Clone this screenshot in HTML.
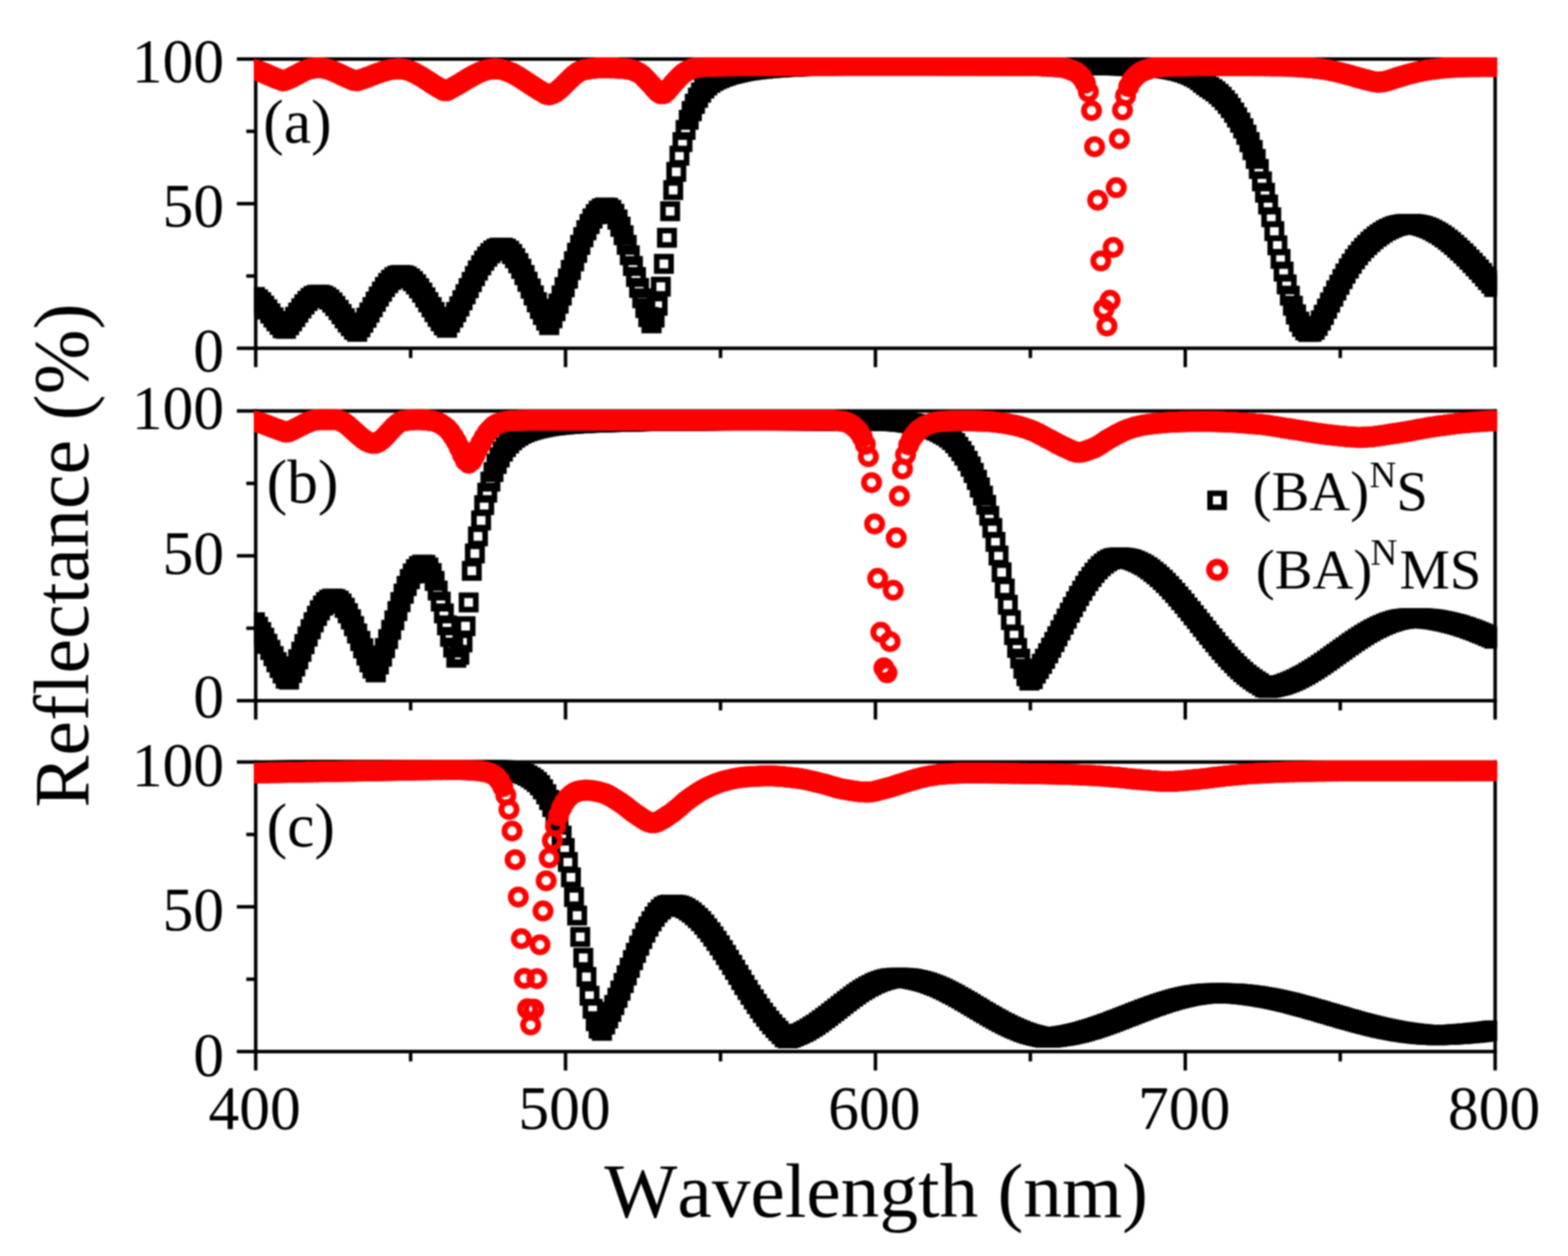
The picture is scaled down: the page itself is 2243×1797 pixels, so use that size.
<!DOCTYPE html>
<html lang="en">
<head>
<meta charset="utf-8">
<title>Reflectance spectra</title>
<style>
html,body{margin:0;padding:0;background:#fff;}
body{width:2243px;height:1797px;overflow:hidden;}
svg{display:block;}
text{font-family:"Liberation Serif","DejaVu Serif",serif;fill:#000;font-kerning:none;}
</style>
</head>
<body>
<svg width="2243" height="1797" viewBox="0 0 2243 1797" style="filter:blur(1.0px)">
<defs>
<marker id="sq" markerUnits="userSpaceOnUse" markerWidth="40" markerHeight="40" refX="20" refY="20" viewBox="0 0 40 40" overflow="visible"><rect x="9.75" y="9.75" width="20.5" height="20.5" fill="none" stroke="#000" stroke-width="8.0"/></marker>
<marker id="ci" markerUnits="userSpaceOnUse" markerWidth="40" markerHeight="40" refX="20" refY="20" viewBox="0 0 40 40" overflow="visible"><circle cx="20" cy="20" r="10.8" fill="none" stroke="#f00" stroke-width="8.4"/></marker>
<marker id="sqf" markerUnits="userSpaceOnUse" markerWidth="40" markerHeight="40" refX="20" refY="20" viewBox="0 0 40 40" overflow="visible"><rect x="5.75" y="5.75" width="28.5" height="28.5" fill="#000"/></marker>
<marker id="cif" markerUnits="userSpaceOnUse" markerWidth="40" markerHeight="40" refX="20" refY="20" viewBox="0 0 40 40" overflow="visible"><circle cx="20" cy="20" r="15.0" fill="#f00"/></marker>
<clipPath id="cp0"><rect x="363.30" y="82.00" width="1778.00" height="418.80"/></clipPath>
<clipPath id="cp1"><rect x="363.30" y="585.50" width="1778.00" height="419.40"/></clipPath>
<clipPath id="cp2"><rect x="363.30" y="1087.80" width="1778.00" height="419.30"/></clipPath>
</defs>
<rect x="0" y="0" width="2243" height="1797" fill="#fff"/>
<g stroke="#000" stroke-width="5.0" fill="none" stroke-linecap="butt"><path d="M338.8 84.5H2141.3"/><path d="M338.8 498.3H2141.3"/><path d="M365.8 82.0V525.3"/><path d="M2138.8 82.0V525.3"/><path d="M338.8 291.4H365.8"/><path d="M352.3 187.9H365.8"/><path d="M352.3 394.9H365.8"/><path d="M809.0 498.3V525.3"/><path d="M1252.3 498.3V525.3"/><path d="M1695.5 498.3V525.3"/><path d="M587.4 498.3V512.3"/><path d="M1030.7 498.3V512.3"/><path d="M1473.9 498.3V512.3"/><path d="M1917.2 498.3V512.3"/></g>
<g stroke="#000" stroke-width="5.0" fill="none" stroke-linecap="butt"><path d="M338.8 588.0H2141.3"/><path d="M338.8 1002.4H2141.3"/><path d="M365.8 585.5V1029.4"/><path d="M2138.8 585.5V1029.4"/><path d="M338.8 795.2H365.8"/><path d="M352.3 691.6H365.8"/><path d="M352.3 898.8H365.8"/><path d="M809.0 1002.4V1029.4"/><path d="M1252.3 1002.4V1029.4"/><path d="M1695.5 1002.4V1029.4"/><path d="M587.4 1002.4V1016.4"/><path d="M1030.7 1002.4V1016.4"/><path d="M1473.9 1002.4V1016.4"/><path d="M1917.2 1002.4V1016.4"/></g>
<g stroke="#000" stroke-width="5.0" fill="none" stroke-linecap="butt"><path d="M338.8 1090.3H2141.3"/><path d="M338.8 1504.6H2141.3"/><path d="M365.8 1087.8V1531.6"/><path d="M2138.8 1087.8V1531.6"/><path d="M338.8 1297.4H365.8"/><path d="M352.3 1193.9H365.8"/><path d="M352.3 1401.0H365.8"/><path d="M809.0 1504.6V1531.6"/><path d="M1252.3 1504.6V1531.6"/><path d="M1695.5 1504.6V1531.6"/><path d="M587.4 1504.6V1518.6"/><path d="M1030.7 1504.6V1518.6"/><path d="M1473.9 1504.6V1518.6"/><path d="M1917.2 1504.6V1518.6"/></g>
<g clip-path="url(#cp0)">
<polyline fill="none" stroke="none" marker-start="url(#sqf)" marker-mid="url(#sqf)" marker-end="url(#sqf)" points="364.6,425.0 369.0,428.3 373.5,432.5 377.9,437.4 382.3,442.8 386.8,448.4 391.2,454.1 395.6,459.6 400.1,464.7 404.5,469.4 408.9,470.3 413.4,465.1 417.8,459.5 422.2,453.4 426.7,447.2 431.1,441.1 435.5,435.5 440.0,430.5 444.4,426.4 448.8,423.5 453.3,422.0 457.7,421.9 462.1,423.0 466.5,425.2 471.0,428.6 475.4,432.9 479.8,437.9 484.3,443.5 488.7,449.4 493.1,455.4 497.6,461.2 502.0,466.6 506.4,471.6 510.9,474.7 515.3,468.2 519.7,461.7 524.2,454.6 528.6,447.1 533.0,439.4 537.5,431.7 541.9,424.2 546.3,417.2 550.8,410.7 555.2,405.0 559.6,400.4 564.1,396.8 568.5,394.6 572.9,393.6 577.4,394.0 581.8,395.6 586.2,398.3 590.7,402.1 595.1,406.9 599.5,412.5 604.0,418.8 608.4,425.5 612.8,432.4 617.3,439.5 621.7,446.5 626.1,453.2 630.5,459.5 635.0,465.3 639.4,468.9 643.8,461.5 648.3,454.3 652.7,446.5 657.1,438.3 661.6,429.7 666.0,421.0 670.4,412.2 674.9,403.5 679.3,395.0 683.7,387.0 688.2,379.6 692.6,372.9 697.0,367.1 701.5,362.2 705.9,358.5 710.3,355.9 714.8,354.6 719.2,354.5 723.6,355.9 728.1,358.9 732.5,363.5 736.9,369.4 741.4,376.6 745.8,384.7 750.2,393.6 754.7,403.1 759.1,412.9 763.5,422.8 768.0,432.5 772.4,441.9 776.8,450.6 781.3,458.7 785.7,465.0 790.1,455.2 794.6,445.1 799.0,434.3 803.4,422.9 807.8,410.9 812.3,398.7 816.7,386.2 821.1,373.9 825.6,361.8 830.0,350.2 834.4,339.3 838.9,329.3 843.3,320.4 847.7,312.7 852.2,306.4 856.6,301.6 861.0,298.4 865.5,297.0 869.9,297.4 874.3,300.3 878.8,306.0 883.2,314.1 887.6,324.4 927.5,453.6 932.0,462.4 989.6,159.0 994.0,148.6 998.4,139.9 1002.9,132.5 1007.3,126.7 1011.7,122.1 1016.2,118.4 1020.6,115.7 1025.0,113.3 1029.5,111.4 1033.9,109.7 1038.3,108.1 1042.8,106.7 1047.2,105.5 1051.6,104.4 1056.1,103.4 1060.5,102.4 1064.9,101.6 1069.4,100.9 1073.8,100.2 1078.2,99.7 1082.7,99.1 1087.1,98.6 1091.5,98.2 1096.0,97.7 1100.4,97.3 1104.8,97.0 1109.3,96.6 1113.7,96.3 1118.1,96.1 1122.6,95.9 1127.0,95.6 1131.4,95.4 1135.9,95.3 1140.3,95.1 1144.7,94.9 1149.2,94.8 1153.6,94.6 1158.0,94.5 1162.5,94.4 1166.9,94.3 1171.3,94.2 1175.7,94.1 1180.2,94.1 1184.6,94.0 1189.0,93.9 1193.5,93.8 1197.9,93.7 1202.3,93.6 1206.8,93.6 1211.2,93.5 1215.6,93.4 1220.1,93.4 1224.5,93.3 1228.9,93.3 1233.4,93.3 1237.8,93.2 1242.2,93.2 1246.7,93.2 1251.1,93.2 1255.5,93.2 1260.0,93.2 1264.4,93.2 1268.8,93.2 1273.3,93.2 1277.7,93.2 1282.1,93.2 1286.6,93.2 1291.0,93.2 1295.4,93.2 1299.9,93.2 1304.3,93.2 1308.7,93.2 1313.2,93.2 1317.6,93.2 1322.0,93.2 1326.5,93.2 1330.9,93.2 1335.3,93.2 1339.8,93.2 1344.2,93.2 1348.6,93.2 1353.0,93.2 1357.5,93.2 1361.9,93.2 1366.3,93.2 1370.8,93.2 1375.2,93.2 1379.6,93.2 1384.1,93.2 1388.5,93.2 1392.9,93.2 1397.4,93.2 1401.8,93.2 1406.2,93.2 1410.7,93.2 1415.1,93.2 1419.5,93.2 1424.0,93.2 1428.4,93.2 1432.8,93.2 1437.3,93.2 1441.7,93.2 1446.1,93.2 1450.6,93.2 1455.0,93.2 1459.4,93.2 1463.9,93.2 1468.3,93.2 1472.7,93.2 1477.2,93.2 1481.6,93.2 1486.0,93.2 1490.5,93.3 1494.9,93.3 1499.3,93.3 1503.8,93.3 1508.2,93.3 1512.6,93.3 1517.0,93.3 1521.5,93.3 1525.9,93.3 1530.3,93.4 1534.8,93.4 1539.2,93.4 1543.6,93.4 1548.1,93.4 1552.5,93.4 1556.9,93.5 1561.4,93.5 1565.8,93.5 1570.2,93.5 1574.7,93.6 1579.1,93.6 1583.5,93.6 1588.0,93.6 1592.4,93.7 1596.8,93.8 1601.3,93.9 1605.7,94.0 1610.1,94.1 1614.6,94.3 1619.0,94.5 1623.4,94.7 1627.9,94.9 1632.3,95.1 1636.7,95.3 1641.2,95.6 1645.6,95.8 1650.0,96.1 1654.5,96.4 1658.9,96.8 1663.3,97.4 1667.8,97.9 1672.2,98.6 1676.6,99.3 1681.1,100.2 1685.5,101.1 1689.9,102.3 1694.3,103.6 1698.8,105.2 1703.2,107.0 1707.6,109.1 1712.1,111.4 1716.5,114.4 1720.9,118.2 1725.4,121.7 1729.8,124.8 1734.2,127.6 1738.7,130.8 1743.1,134.5 1747.5,138.7 1752.0,143.3 1756.4,148.6 1760.8,154.6 1765.3,161.1 1769.7,168.0 1774.1,175.5 1778.6,183.8 1783.0,192.9 1787.4,203.3 1791.9,214.8 1853.9,449.9 1858.4,460.2 1862.8,467.7 1867.2,472.6 1871.6,474.9 1876.1,474.7 1880.5,471.8 1884.9,466.1 1889.4,458.6 1893.8,450.5 1898.2,441.7 1902.7,432.9 1907.1,424.3 1911.5,415.6 1916.0,407.3 1920.4,399.2 1924.8,391.4 1929.3,384.1 1933.7,377.3 1938.1,370.9 1942.6,365.1 1947.0,359.8 1951.4,354.8 1955.9,350.3 1960.3,346.0 1964.7,342.1 1969.2,338.5 1973.6,335.3 1978.0,332.3 1982.5,329.7 1986.9,327.4 1991.3,325.4 1995.8,323.7 2000.2,322.4 2004.6,321.6 2009.1,320.8 2013.5,320.4 2017.9,320.4 2022.4,320.8 2026.8,321.4 2031.2,322.2 2035.7,323.5 2040.1,325.0 2044.5,326.8 2049.0,328.9 2053.4,331.2 2057.8,333.8 2062.2,336.6 2066.7,339.7 2071.1,343.0 2075.5,346.5 2080.0,350.2 2084.4,354.2 2088.8,358.3 2093.3,362.5 2097.7,366.9 2102.1,371.5 2106.6,376.1 2111.0,380.9 2115.4,385.7 2119.9,390.7 2124.3,395.6 2128.7,400.6 2133.2,405.7 2137.6,410.7"/>
<polyline fill="none" stroke="none" marker-start="url(#sq)" marker-mid="url(#sq)" marker-end="url(#sq)" points="364.6,425.0 369.0,428.3 373.5,432.5 377.9,437.4 382.3,442.8 386.8,448.4 391.2,454.1 395.6,459.6 400.1,464.7 404.5,469.4 408.9,470.3 413.4,465.1 417.8,459.5 422.2,453.4 426.7,447.2 431.1,441.1 435.5,435.5 440.0,430.5 444.4,426.4 448.8,423.5 453.3,422.0 457.7,421.9 462.1,423.0 466.5,425.2 471.0,428.6 475.4,432.9 479.8,437.9 484.3,443.5 488.7,449.4 493.1,455.4 497.6,461.2 502.0,466.6 506.4,471.6 510.9,474.7 515.3,468.2 519.7,461.7 524.2,454.6 528.6,447.1 533.0,439.4 537.5,431.7 541.9,424.2 546.3,417.2 550.8,410.7 555.2,405.0 559.6,400.4 564.1,396.8 568.5,394.6 572.9,393.6 577.4,394.0 581.8,395.6 586.2,398.3 590.7,402.1 595.1,406.9 599.5,412.5 604.0,418.8 608.4,425.5 612.8,432.4 617.3,439.5 621.7,446.5 626.1,453.2 630.5,459.5 635.0,465.3 639.4,468.9 643.8,461.5 648.3,454.3 652.7,446.5 657.1,438.3 661.6,429.7 666.0,421.0 670.4,412.2 674.9,403.5 679.3,395.0 683.7,387.0 688.2,379.6 692.6,372.9 697.0,367.1 701.5,362.2 705.9,358.5 710.3,355.9 714.8,354.6 719.2,354.5 723.6,355.9 728.1,358.9 732.5,363.5 736.9,369.4 741.4,376.6 745.8,384.7 750.2,393.6 754.7,403.1 759.1,412.9 763.5,422.8 768.0,432.5 772.4,441.9 776.8,450.6 781.3,458.7 785.7,465.0 790.1,455.2 794.6,445.1 799.0,434.3 803.4,422.9 807.8,410.9 812.3,398.7 816.7,386.2 821.1,373.9 825.6,361.8 830.0,350.2 834.4,339.3 838.9,329.3 843.3,320.4 847.7,312.7 852.2,306.4 856.6,301.6 861.0,298.4 865.5,297.0 869.9,297.4 874.3,300.3 878.8,306.0 883.2,314.1 887.6,324.4 892.1,336.6 896.5,350.3 900.9,365.2 905.4,380.6 909.8,396.3 914.2,411.9 918.7,426.8 923.1,440.8 927.5,453.6 932.0,462.4 936.4,454.4 940.8,437.5 945.3,410.2 949.7,377.5 954.1,340.2 958.6,302.2 963.0,272.0 967.4,245.9 971.9,222.7 976.3,203.3 980.7,185.9 985.2,171.4 989.6,159.0 994.0,148.6 998.4,139.9 1002.9,132.5 1007.3,126.7 1011.7,122.1 1016.2,118.4 1020.6,115.7 1025.0,113.3 1029.5,111.4 1033.9,109.7 1038.3,108.1 1042.8,106.7 1047.2,105.5 1051.6,104.4 1056.1,103.4 1060.5,102.4 1064.9,101.6 1069.4,100.9 1073.8,100.2 1078.2,99.7 1082.7,99.1 1087.1,98.6 1091.5,98.2 1096.0,97.7 1100.4,97.3 1104.8,97.0 1109.3,96.6 1113.7,96.3 1118.1,96.1 1122.6,95.9 1127.0,95.6 1131.4,95.4 1135.9,95.3 1140.3,95.1 1144.7,94.9 1149.2,94.8 1153.6,94.6 1158.0,94.5 1162.5,94.4 1166.9,94.3 1171.3,94.2 1175.7,94.1 1180.2,94.1 1184.6,94.0 1189.0,93.9 1193.5,93.8 1197.9,93.7 1202.3,93.6 1206.8,93.6 1211.2,93.5 1215.6,93.4 1220.1,93.4 1224.5,93.3 1228.9,93.3 1233.4,93.3 1237.8,93.2 1242.2,93.2 1246.7,93.2 1251.1,93.2 1255.5,93.2 1260.0,93.2 1264.4,93.2 1268.8,93.2 1273.3,93.2 1277.7,93.2 1282.1,93.2 1286.6,93.2 1291.0,93.2 1295.4,93.2 1299.9,93.2 1304.3,93.2 1308.7,93.2 1313.2,93.2 1317.6,93.2 1322.0,93.2 1326.5,93.2 1330.9,93.2 1335.3,93.2 1339.8,93.2 1344.2,93.2 1348.6,93.2 1353.0,93.2 1357.5,93.2 1361.9,93.2 1366.3,93.2 1370.8,93.2 1375.2,93.2 1379.6,93.2 1384.1,93.2 1388.5,93.2 1392.9,93.2 1397.4,93.2 1401.8,93.2 1406.2,93.2 1410.7,93.2 1415.1,93.2 1419.5,93.2 1424.0,93.2 1428.4,93.2 1432.8,93.2 1437.3,93.2 1441.7,93.2 1446.1,93.2 1450.6,93.2 1455.0,93.2 1459.4,93.2 1463.9,93.2 1468.3,93.2 1472.7,93.2 1477.2,93.2 1481.6,93.2 1486.0,93.2 1490.5,93.3 1494.9,93.3 1499.3,93.3 1503.8,93.3 1508.2,93.3 1512.6,93.3 1517.0,93.3 1521.5,93.3 1525.9,93.3 1530.3,93.4 1534.8,93.4 1539.2,93.4 1543.6,93.4 1548.1,93.4 1552.5,93.4 1556.9,93.5 1561.4,93.5 1565.8,93.5 1570.2,93.5 1574.7,93.6 1579.1,93.6 1583.5,93.6 1588.0,93.6 1592.4,93.7 1596.8,93.8 1601.3,93.9 1605.7,94.0 1610.1,94.1 1614.6,94.3 1619.0,94.5 1623.4,94.7 1627.9,94.9 1632.3,95.1 1636.7,95.3 1641.2,95.6 1645.6,95.8 1650.0,96.1 1654.5,96.4 1658.9,96.8 1663.3,97.4 1667.8,97.9 1672.2,98.6 1676.6,99.3 1681.1,100.2 1685.5,101.1 1689.9,102.3 1694.3,103.6 1698.8,105.2 1703.2,107.0 1707.6,109.1 1712.1,111.4 1716.5,114.4 1720.9,118.2 1725.4,121.7 1729.8,124.8 1734.2,127.6 1738.7,130.8 1743.1,134.5 1747.5,138.7 1752.0,143.3 1756.4,148.6 1760.8,154.6 1765.3,161.1 1769.7,168.0 1774.1,175.5 1778.6,183.8 1783.0,192.9 1787.4,203.3 1791.9,214.8 1796.3,227.4 1800.7,241.7 1805.2,259.5 1809.6,275.7 1814.0,292.6 1818.5,310.8 1822.9,330.7 1827.3,351.0 1831.8,370.4 1836.2,388.6 1840.6,406.9 1845.1,423.0 1849.5,437.5 1853.9,449.9 1858.4,460.2 1862.8,467.7 1867.2,472.6 1871.6,474.9 1876.1,474.7 1880.5,471.8 1884.9,466.1 1889.4,458.6 1893.8,450.5 1898.2,441.7 1902.7,432.9 1907.1,424.3 1911.5,415.6 1916.0,407.3 1920.4,399.2 1924.8,391.4 1929.3,384.1 1933.7,377.3 1938.1,370.9 1942.6,365.1 1947.0,359.8 1951.4,354.8 1955.9,350.3 1960.3,346.0 1964.7,342.1 1969.2,338.5 1973.6,335.3 1978.0,332.3 1982.5,329.7 1986.9,327.4 1991.3,325.4 1995.8,323.7 2000.2,322.4 2004.6,321.6 2009.1,320.8 2013.5,320.4 2017.9,320.4 2022.4,320.8 2026.8,321.4 2031.2,322.2 2035.7,323.5 2040.1,325.0 2044.5,326.8 2049.0,328.9 2053.4,331.2 2057.8,333.8 2062.2,336.6 2066.7,339.7 2071.1,343.0 2075.5,346.5 2080.0,350.2 2084.4,354.2 2088.8,358.3 2093.3,362.5 2097.7,366.9 2102.1,371.5 2106.6,376.1 2111.0,380.9 2115.4,385.7 2119.9,390.7 2124.3,395.6 2128.7,400.6 2133.2,405.7 2137.6,410.7"/>
<polyline fill="none" stroke="none" marker-start="url(#cif)" marker-mid="url(#cif)" marker-end="url(#cif)" points="364.6,99.7 369.0,101.2 373.5,102.9 377.9,104.7 382.3,106.6 386.8,108.6 391.2,110.5 395.6,112.3 400.1,114.0 404.5,115.7 408.9,114.7 413.4,112.8 417.8,110.6 422.2,108.3 426.7,105.9 431.1,103.6 435.5,101.5 440.0,99.7 444.4,98.3 448.8,97.4 453.3,96.9 457.7,97.0 462.1,97.5 466.5,98.5 471.0,99.7 475.4,101.3 479.8,103.2 484.3,105.2 488.7,107.3 493.1,109.4 497.6,111.4 502.0,113.3 506.4,115.1 510.9,115.6 515.3,114.1 519.7,112.7 524.2,111.1 528.6,109.4 533.0,107.7 537.5,106.0 541.9,104.4 546.3,102.9 550.8,101.5 555.2,100.4 559.6,99.5 564.1,98.9 568.5,98.6 572.9,98.6 577.4,99.1 581.8,100.1 586.2,101.5 590.7,103.3 595.1,105.4 599.5,107.9 604.0,110.5 608.4,113.4 612.8,116.2 617.3,119.1 621.7,121.9 626.1,124.6 630.5,127.1 635.0,129.6 639.4,129.7 643.8,127.4 648.3,125.0 652.7,122.5 657.1,119.9 661.6,117.2 666.0,114.5 670.4,111.8 674.9,109.3 679.3,106.9 683.7,104.7 688.2,102.7 692.6,101.1 697.0,99.9 701.5,99.0 705.9,98.6 710.3,98.6 714.8,99.1 719.2,99.9 723.6,101.2 728.1,102.9 732.5,104.8 736.9,107.1 741.4,109.7 745.8,112.4 750.2,115.3 754.7,118.2 759.1,121.2 763.5,124.1 768.0,127.0 772.4,129.7 776.8,132.2 781.3,134.8 785.7,135.7 790.1,134.5 794.6,132.1 799.0,128.8 803.4,124.9 807.8,120.6 812.3,116.1 816.7,111.8 821.1,107.7 825.6,104.3 830.0,101.7 834.4,100.2 838.9,99.4 843.3,98.6 847.7,97.9 852.2,97.4 856.6,97.0 861.0,96.9 865.5,96.9 869.9,97.0 874.3,97.2 878.8,97.3 883.2,97.6 887.6,97.9 892.1,98.2 896.5,98.6 900.9,99.3 905.4,100.6 909.8,102.3 914.2,104.4 918.7,107.7 923.1,112.2 927.5,116.8 932.0,121.5 936.4,126.7 940.8,131.3 945.3,134.2 949.7,134.0 954.1,130.3 958.6,124.9 963.0,119.7 967.4,114.9 971.9,110.0 976.3,106.0 980.7,102.9 985.2,100.4 989.6,98.6 994.0,97.4 998.4,96.4 1002.9,95.6 1007.3,95.3 1011.7,95.1 1016.2,94.9 1020.6,94.8 1025.0,94.7 1029.5,94.6 1033.9,94.5 1038.3,94.4 1042.8,94.3 1047.2,94.2 1051.6,94.2 1056.1,94.1 1060.5,94.1 1064.9,94.1 1069.4,94.0 1073.8,94.0 1078.2,94.0 1082.7,94.0 1087.1,94.0 1091.5,93.9 1096.0,93.9 1100.4,93.9 1104.8,93.9 1109.3,93.9 1113.7,93.9 1118.1,93.8 1122.6,93.8 1127.0,93.8 1131.4,93.8 1135.9,93.8 1140.3,93.8 1144.7,93.8 1149.2,93.7 1153.6,93.7 1158.0,93.7 1162.5,93.7 1166.9,93.7 1171.3,93.7 1175.7,93.7 1180.2,93.7 1184.6,93.7 1189.0,93.7 1193.5,93.6 1197.9,93.6 1202.3,93.6 1206.8,93.6 1211.2,93.6 1215.6,93.6 1220.1,93.6 1224.5,93.6 1228.9,93.6 1233.4,93.6 1237.8,93.6 1242.2,93.6 1246.7,93.6 1251.1,93.6 1255.5,93.6 1260.0,93.6 1264.4,93.6 1268.8,93.6 1273.3,93.6 1277.7,93.6 1282.1,93.6 1286.6,93.6 1291.0,93.6 1295.4,93.6 1299.9,93.6 1304.3,93.6 1308.7,93.6 1313.2,93.6 1317.6,93.6 1322.0,93.6 1326.5,93.6 1330.9,93.6 1335.3,93.6 1339.8,93.7 1344.2,93.7 1348.6,93.7 1353.0,93.7 1357.5,93.7 1361.9,93.7 1366.3,93.7 1370.8,93.7 1375.2,93.7 1379.6,93.7 1384.1,93.7 1388.5,93.7 1392.9,93.7 1397.4,93.8 1401.8,93.8 1406.2,93.8 1410.7,93.8 1415.1,93.8 1419.5,93.8 1424.0,93.8 1428.4,93.8 1432.8,93.9 1437.3,93.9 1441.7,93.9 1446.1,93.9 1450.6,93.9 1455.0,93.9 1459.4,94.0 1463.9,94.0 1468.3,94.0 1472.7,94.0 1477.2,94.1 1481.6,94.1 1486.0,94.2 1490.5,94.4 1494.9,94.6 1499.3,94.8 1503.8,95.1 1508.2,95.4 1512.6,95.7 1517.0,96.1 1521.5,96.8 1525.9,97.9 1530.3,99.4 1534.8,101.1 1539.2,103.1 1543.6,106.4 1548.1,111.4 1552.5,118.8 1619.0,115.5 1623.4,110.2 1627.9,106.0 1632.3,103.1 1636.7,101.1 1641.2,99.4 1645.6,98.0 1650.0,96.9 1654.5,96.3 1658.9,95.8 1663.3,95.3 1667.8,95.0 1672.2,94.8 1676.6,94.7 1681.1,94.6 1685.5,94.5 1689.9,94.5 1694.3,94.4 1698.8,94.3 1703.2,94.3 1707.6,94.2 1712.1,94.1 1716.5,94.1 1720.9,94.1 1725.4,94.0 1729.8,94.0 1734.2,94.0 1738.7,94.0 1743.1,94.0 1747.5,94.0 1752.0,94.0 1756.4,94.0 1760.8,94.0 1765.3,94.1 1769.7,94.1 1774.1,94.1 1778.6,94.1 1783.0,94.1 1787.4,94.1 1791.9,94.2 1796.3,94.2 1800.7,94.2 1805.2,94.2 1809.6,94.3 1814.0,94.3 1818.5,94.4 1822.9,94.4 1827.3,94.4 1831.8,94.5 1836.2,94.6 1840.6,94.8 1845.1,95.0 1849.5,95.3 1853.9,95.5 1858.4,95.8 1862.8,96.1 1867.2,96.4 1871.6,96.7 1876.1,97.1 1880.5,97.6 1884.9,98.0 1889.4,98.6 1893.8,99.2 1898.2,100.0 1902.7,100.8 1907.1,101.7 1911.5,102.7 1916.0,103.7 1920.4,104.9 1924.8,106.1 1929.3,107.3 1933.7,108.5 1938.1,109.8 1942.6,111.1 1947.0,112.3 1951.4,113.5 1955.9,114.6 1960.3,115.7 1964.7,116.7 1969.2,117.4 1973.6,117.6 1978.0,117.1 1982.5,116.2 1986.9,114.9 1991.3,113.4 1995.8,111.9 2000.2,110.6 2004.6,109.3 2009.1,108.0 2013.5,106.7 2017.9,105.5 2022.4,104.4 2026.8,103.3 2031.2,102.3 2035.7,101.4 2040.1,100.6 2044.5,100.0 2049.0,99.3 2053.4,98.7 2057.8,98.2 2062.2,97.7 2066.7,97.3 2071.1,97.0 2075.5,96.6 2080.0,96.3 2084.4,96.0 2088.8,95.8 2093.3,95.7 2097.7,95.6 2102.1,95.5 2106.6,95.5 2111.0,95.4 2115.4,95.4 2119.9,95.3 2124.3,95.3 2128.7,95.3 2133.2,95.3 2137.6,95.3"/>
<polyline fill="none" stroke="none" marker-start="url(#ci)" marker-mid="url(#ci)" marker-end="url(#ci)" points="364.6,99.7 369.0,101.2 373.5,102.9 377.9,104.7 382.3,106.6 386.8,108.6 391.2,110.5 395.6,112.3 400.1,114.0 404.5,115.7 408.9,114.7 413.4,112.8 417.8,110.6 422.2,108.3 426.7,105.9 431.1,103.6 435.5,101.5 440.0,99.7 444.4,98.3 448.8,97.4 453.3,96.9 457.7,97.0 462.1,97.5 466.5,98.5 471.0,99.7 475.4,101.3 479.8,103.2 484.3,105.2 488.7,107.3 493.1,109.4 497.6,111.4 502.0,113.3 506.4,115.1 510.9,115.6 515.3,114.1 519.7,112.7 524.2,111.1 528.6,109.4 533.0,107.7 537.5,106.0 541.9,104.4 546.3,102.9 550.8,101.5 555.2,100.4 559.6,99.5 564.1,98.9 568.5,98.6 572.9,98.6 577.4,99.1 581.8,100.1 586.2,101.5 590.7,103.3 595.1,105.4 599.5,107.9 604.0,110.5 608.4,113.4 612.8,116.2 617.3,119.1 621.7,121.9 626.1,124.6 630.5,127.1 635.0,129.6 639.4,129.7 643.8,127.4 648.3,125.0 652.7,122.5 657.1,119.9 661.6,117.2 666.0,114.5 670.4,111.8 674.9,109.3 679.3,106.9 683.7,104.7 688.2,102.7 692.6,101.1 697.0,99.9 701.5,99.0 705.9,98.6 710.3,98.6 714.8,99.1 719.2,99.9 723.6,101.2 728.1,102.9 732.5,104.8 736.9,107.1 741.4,109.7 745.8,112.4 750.2,115.3 754.7,118.2 759.1,121.2 763.5,124.1 768.0,127.0 772.4,129.7 776.8,132.2 781.3,134.8 785.7,135.7 790.1,134.5 794.6,132.1 799.0,128.8 803.4,124.9 807.8,120.6 812.3,116.1 816.7,111.8 821.1,107.7 825.6,104.3 830.0,101.7 834.4,100.2 838.9,99.4 843.3,98.6 847.7,97.9 852.2,97.4 856.6,97.0 861.0,96.9 865.5,96.9 869.9,97.0 874.3,97.2 878.8,97.3 883.2,97.6 887.6,97.9 892.1,98.2 896.5,98.6 900.9,99.3 905.4,100.6 909.8,102.3 914.2,104.4 918.7,107.7 923.1,112.2 927.5,116.8 932.0,121.5 936.4,126.7 940.8,131.3 945.3,134.2 949.7,134.0 954.1,130.3 958.6,124.9 963.0,119.7 967.4,114.9 971.9,110.0 976.3,106.0 980.7,102.9 985.2,100.4 989.6,98.6 994.0,97.4 998.4,96.4 1002.9,95.6 1007.3,95.3 1011.7,95.1 1016.2,94.9 1020.6,94.8 1025.0,94.7 1029.5,94.6 1033.9,94.5 1038.3,94.4 1042.8,94.3 1047.2,94.2 1051.6,94.2 1056.1,94.1 1060.5,94.1 1064.9,94.1 1069.4,94.0 1073.8,94.0 1078.2,94.0 1082.7,94.0 1087.1,94.0 1091.5,93.9 1096.0,93.9 1100.4,93.9 1104.8,93.9 1109.3,93.9 1113.7,93.9 1118.1,93.8 1122.6,93.8 1127.0,93.8 1131.4,93.8 1135.9,93.8 1140.3,93.8 1144.7,93.8 1149.2,93.7 1153.6,93.7 1158.0,93.7 1162.5,93.7 1166.9,93.7 1171.3,93.7 1175.7,93.7 1180.2,93.7 1184.6,93.7 1189.0,93.7 1193.5,93.6 1197.9,93.6 1202.3,93.6 1206.8,93.6 1211.2,93.6 1215.6,93.6 1220.1,93.6 1224.5,93.6 1228.9,93.6 1233.4,93.6 1237.8,93.6 1242.2,93.6 1246.7,93.6 1251.1,93.6 1255.5,93.6 1260.0,93.6 1264.4,93.6 1268.8,93.6 1273.3,93.6 1277.7,93.6 1282.1,93.6 1286.6,93.6 1291.0,93.6 1295.4,93.6 1299.9,93.6 1304.3,93.6 1308.7,93.6 1313.2,93.6 1317.6,93.6 1322.0,93.6 1326.5,93.6 1330.9,93.6 1335.3,93.6 1339.8,93.7 1344.2,93.7 1348.6,93.7 1353.0,93.7 1357.5,93.7 1361.9,93.7 1366.3,93.7 1370.8,93.7 1375.2,93.7 1379.6,93.7 1384.1,93.7 1388.5,93.7 1392.9,93.7 1397.4,93.8 1401.8,93.8 1406.2,93.8 1410.7,93.8 1415.1,93.8 1419.5,93.8 1424.0,93.8 1428.4,93.8 1432.8,93.9 1437.3,93.9 1441.7,93.9 1446.1,93.9 1450.6,93.9 1455.0,93.9 1459.4,94.0 1463.9,94.0 1468.3,94.0 1472.7,94.0 1477.2,94.1 1481.6,94.1 1486.0,94.2 1490.5,94.4 1494.9,94.6 1499.3,94.8 1503.8,95.1 1508.2,95.4 1512.6,95.7 1517.0,96.1 1521.5,96.8 1525.9,97.9 1530.3,99.4 1534.8,101.1 1539.2,103.1 1543.6,106.4 1548.1,111.4 1552.5,118.8 1556.9,131.3 1561.4,158.2 1565.8,209.9 1570.2,286.4 1574.7,373.3 1579.1,442.4 1583.5,466.4 1588.0,429.6 1592.4,353.9 1596.8,268.6 1601.3,198.7 1605.7,157.3 1610.1,137.1 1614.6,123.8 1619.0,115.5 1623.4,110.2 1627.9,106.0 1632.3,103.1 1636.7,101.1 1641.2,99.4 1645.6,98.0 1650.0,96.9 1654.5,96.3 1658.9,95.8 1663.3,95.3 1667.8,95.0 1672.2,94.8 1676.6,94.7 1681.1,94.6 1685.5,94.5 1689.9,94.5 1694.3,94.4 1698.8,94.3 1703.2,94.3 1707.6,94.2 1712.1,94.1 1716.5,94.1 1720.9,94.1 1725.4,94.0 1729.8,94.0 1734.2,94.0 1738.7,94.0 1743.1,94.0 1747.5,94.0 1752.0,94.0 1756.4,94.0 1760.8,94.0 1765.3,94.1 1769.7,94.1 1774.1,94.1 1778.6,94.1 1783.0,94.1 1787.4,94.1 1791.9,94.2 1796.3,94.2 1800.7,94.2 1805.2,94.2 1809.6,94.3 1814.0,94.3 1818.5,94.4 1822.9,94.4 1827.3,94.4 1831.8,94.5 1836.2,94.6 1840.6,94.8 1845.1,95.0 1849.5,95.3 1853.9,95.5 1858.4,95.8 1862.8,96.1 1867.2,96.4 1871.6,96.7 1876.1,97.1 1880.5,97.6 1884.9,98.0 1889.4,98.6 1893.8,99.2 1898.2,100.0 1902.7,100.8 1907.1,101.7 1911.5,102.7 1916.0,103.7 1920.4,104.9 1924.8,106.1 1929.3,107.3 1933.7,108.5 1938.1,109.8 1942.6,111.1 1947.0,112.3 1951.4,113.5 1955.9,114.6 1960.3,115.7 1964.7,116.7 1969.2,117.4 1973.6,117.6 1978.0,117.1 1982.5,116.2 1986.9,114.9 1991.3,113.4 1995.8,111.9 2000.2,110.6 2004.6,109.3 2009.1,108.0 2013.5,106.7 2017.9,105.5 2022.4,104.4 2026.8,103.3 2031.2,102.3 2035.7,101.4 2040.1,100.6 2044.5,100.0 2049.0,99.3 2053.4,98.7 2057.8,98.2 2062.2,97.7 2066.7,97.3 2071.1,97.0 2075.5,96.6 2080.0,96.3 2084.4,96.0 2088.8,95.8 2093.3,95.7 2097.7,95.6 2102.1,95.5 2106.6,95.5 2111.0,95.4 2115.4,95.4 2119.9,95.3 2124.3,95.3 2128.7,95.3 2133.2,95.3 2137.6,95.3"/>
</g>
<g clip-path="url(#cp1)">
<polyline fill="none" stroke="none" marker-start="url(#sqf)" marker-mid="url(#sqf)" marker-end="url(#sqf)" points="364.6,890.4 369.0,896.9 373.5,904.4 377.9,912.5 382.3,921.1 386.8,929.9 391.2,938.8 395.6,947.4 400.1,955.7 404.5,963.4 408.9,970.9 413.4,972.1 417.8,962.7 422.2,953.3 426.7,943.2 431.1,932.6 435.5,921.7 440.0,910.8 444.4,900.2 448.8,890.2 453.3,881.1 457.7,873.1 462.1,866.5 466.5,861.4 471.0,858.1 475.4,856.6 479.8,857.1 484.3,859.4 488.7,863.7 493.1,869.7 497.6,877.3 502.0,886.1 506.4,895.9 510.9,906.3 515.3,917.0 519.7,927.6 524.2,937.9 528.6,947.6 533.0,956.3 537.5,961.9 541.9,950.6 546.3,939.4 550.8,927.2 572.9,861.4 577.4,849.3 581.8,838.3 586.2,828.6 590.7,820.6 595.1,814.3 599.5,810.0 604.0,808.0 608.4,808.2 612.8,812.1 617.3,820.0 710.3,663.8 714.8,654.3 719.2,646.0 723.6,639.7 728.1,634.4 732.5,629.9 736.9,626.1 741.4,623.2 745.8,620.7 750.2,618.7 754.7,616.9 759.1,615.4 763.5,614.1 768.0,613.0 772.4,612.0 776.8,611.1 781.3,610.2 785.7,609.5 790.1,608.9 794.6,608.4 799.0,607.9 803.4,607.4 807.8,607.1 812.3,606.7 816.7,606.4 821.1,606.1 825.6,605.8 830.0,605.6 834.4,605.3 838.9,605.1 843.3,604.9 847.7,604.7 852.2,604.6 856.6,604.4 861.0,604.3 865.5,604.1 869.9,604.0 874.3,603.9 878.8,603.7 883.2,603.6 887.6,603.5 892.1,603.4 896.5,603.3 900.9,603.2 905.4,603.1 909.8,603.0 914.2,602.9 918.7,602.8 923.1,602.7 927.5,602.7 932.0,602.6 936.4,602.6 940.8,602.5 945.3,602.5 949.7,602.4 954.1,602.4 958.6,602.3 963.0,602.3 967.4,602.2 971.9,602.2 976.3,602.2 980.7,602.1 985.2,602.1 989.6,602.1 994.0,602.0 998.4,602.0 1002.9,602.0 1007.3,601.9 1011.7,601.9 1016.2,601.9 1020.6,601.8 1025.0,601.8 1029.5,601.8 1033.9,601.8 1038.3,601.7 1042.8,601.7 1047.2,601.7 1051.6,601.7 1056.1,601.7 1060.5,601.7 1064.9,601.7 1069.4,601.7 1073.8,601.7 1078.2,601.7 1082.7,601.7 1087.1,601.7 1091.5,601.7 1096.0,601.7 1100.4,601.7 1104.8,601.7 1109.3,601.7 1113.7,601.7 1118.1,601.7 1122.6,601.8 1127.0,601.8 1131.4,601.8 1135.9,601.8 1140.3,601.8 1144.7,601.8 1149.2,601.8 1153.6,601.9 1158.0,601.9 1162.5,601.9 1166.9,601.9 1171.3,601.9 1175.7,602.0 1180.2,602.0 1184.6,602.0 1189.0,602.0 1193.5,602.0 1197.9,602.0 1202.3,602.1 1206.8,602.1 1211.2,602.1 1215.6,602.1 1220.1,602.1 1224.5,602.2 1228.9,602.2 1233.4,602.2 1237.8,602.2 1242.2,602.3 1246.7,602.3 1251.1,602.3 1255.5,602.4 1260.0,602.4 1264.4,602.4 1268.8,602.5 1273.3,602.6 1277.7,602.8 1282.1,603.0 1286.6,603.3 1291.0,603.8 1295.4,604.3 1299.9,605.0 1304.3,605.8 1308.7,606.6 1313.2,607.7 1317.6,608.7 1322.0,609.7 1326.5,610.8 1330.9,612.3 1335.3,614.1 1339.8,616.0 1344.2,618.0 1348.6,620.3 1353.0,622.9 1357.5,625.9 1361.9,629.4 1366.3,634.0 1370.8,639.4 1375.2,645.3 1379.6,651.8 1384.1,659.3 1388.5,667.6 1392.9,676.7 1397.4,686.6 1401.8,697.4 1468.3,967.2 1472.7,973.7 1477.2,971.5 1481.6,963.7 1486.0,957.0 1490.5,949.9 1494.9,942.5 1499.3,934.8 1503.8,926.8 1508.2,918.6 1512.6,910.3 1517.0,901.9 1521.5,893.5 1525.9,885.0 1530.3,876.7 1534.8,868.5 1539.2,860.4 1543.6,852.6 1548.1,845.2 1552.5,838.1 1556.9,831.4 1561.4,825.3 1565.8,819.6 1570.2,814.5 1574.7,810.0 1579.1,806.2 1583.5,803.0 1588.0,800.6 1592.4,798.9 1596.8,798.0 1601.3,797.7 1605.7,798.0 1610.1,798.6 1614.6,799.4 1619.0,800.6 1623.4,802.2 1627.9,804.1 1632.3,806.3 1636.7,808.8 1641.2,811.6 1645.6,814.7 1650.0,818.1 1654.5,821.7 1658.9,825.6 1663.3,829.7 1667.8,834.0 1672.2,838.6 1676.6,843.3 1681.1,848.2 1685.5,853.3 1689.9,858.5 1694.3,863.8 1698.8,869.2 1703.2,874.6 1707.6,880.2 1712.1,885.7 1716.5,891.4 1720.9,896.9 1725.4,902.5 1729.8,908.1 1734.2,913.5 1738.7,918.9 1743.1,924.3 1747.5,929.5 1752.0,934.5 1756.4,939.5 1760.8,944.2 1765.3,948.8 1769.7,953.2 1774.1,957.4 1778.6,961.4 1783.0,965.2 1787.4,968.7 1791.9,971.9 1796.3,975.0 1800.7,977.7 1805.2,980.6 1809.6,983.2 1814.0,984.2 1818.5,983.7 1822.9,982.8 1827.3,981.7 1831.8,980.6 1836.2,979.2 1840.6,977.7 1845.1,976.0 1849.5,974.1 1853.9,972.1 1858.4,969.9 1862.8,967.6 1867.2,965.2 1871.6,962.6 1876.1,959.9 1880.5,957.2 1884.9,954.3 1889.4,951.3 1893.8,948.3 1898.2,945.2 1902.7,942.1 1907.1,938.9 1911.5,935.8 1916.0,932.6 1920.4,929.4 1924.8,926.2 1929.3,923.1 1933.7,920.0 1938.1,917.0 1942.6,914.0 1947.0,911.1 1951.4,908.3 1955.9,905.7 1960.3,903.1 1964.7,900.7 1969.2,898.4 1973.6,896.2 1978.0,894.2 1982.5,892.4 1986.9,890.7 1991.3,889.2 1995.8,887.9 2000.2,886.8 2004.6,885.9 2009.1,885.2 2013.5,884.8 2017.9,884.4 2022.4,884.3 2026.8,884.4 2031.2,884.5 2035.7,884.8 2040.1,885.1 2044.5,885.5 2049.0,886.0 2053.4,886.7 2057.8,887.4 2062.2,888.2 2066.7,889.1 2071.1,890.1 2075.5,891.2 2080.0,892.3 2084.4,893.5 2088.8,894.9 2093.3,896.3 2097.7,897.7 2102.1,899.3 2106.6,900.9 2111.0,902.6 2115.4,904.3 2119.9,906.1 2124.3,907.9 2128.7,909.9 2133.2,911.8 2137.6,913.8"/>
<polyline fill="none" stroke="none" marker-start="url(#sq)" marker-mid="url(#sq)" marker-end="url(#sq)" points="364.6,890.4 369.0,896.9 373.5,904.4 377.9,912.5 382.3,921.1 386.8,929.9 391.2,938.8 395.6,947.4 400.1,955.7 404.5,963.4 408.9,970.9 413.4,972.1 417.8,962.7 422.2,953.3 426.7,943.2 431.1,932.6 435.5,921.7 440.0,910.8 444.4,900.2 448.8,890.2 453.3,881.1 457.7,873.1 462.1,866.5 466.5,861.4 471.0,858.1 475.4,856.6 479.8,857.1 484.3,859.4 488.7,863.7 493.1,869.7 497.6,877.3 502.0,886.1 506.4,895.9 510.9,906.3 515.3,917.0 519.7,927.6 524.2,937.9 528.6,947.6 533.0,956.3 537.5,961.9 541.9,950.6 546.3,939.4 550.8,927.2 555.2,914.4 559.6,901.1 564.1,887.6 568.5,874.3 572.9,861.4 577.4,849.3 581.8,838.3 586.2,828.6 590.7,820.6 595.1,814.3 599.5,810.0 604.0,808.0 608.4,808.2 612.8,812.1 617.3,820.0 621.7,831.1 626.1,844.9 630.5,860.7 635.0,877.6 639.4,894.7 643.8,911.2 648.3,926.5 652.7,941.1 657.1,936.9 661.6,919.1 666.0,895.9 670.4,861.9 674.9,816.7 679.3,791.9 683.7,767.4 688.2,744.6 692.6,722.7 697.0,704.9 701.5,689.1 705.9,675.4 710.3,663.8 714.8,654.3 719.2,646.0 723.6,639.7 728.1,634.4 732.5,629.9 736.9,626.1 741.4,623.2 745.8,620.7 750.2,618.7 754.7,616.9 759.1,615.4 763.5,614.1 768.0,613.0 772.4,612.0 776.8,611.1 781.3,610.2 785.7,609.5 790.1,608.9 794.6,608.4 799.0,607.9 803.4,607.4 807.8,607.1 812.3,606.7 816.7,606.4 821.1,606.1 825.6,605.8 830.0,605.6 834.4,605.3 838.9,605.1 843.3,604.9 847.7,604.7 852.2,604.6 856.6,604.4 861.0,604.3 865.5,604.1 869.9,604.0 874.3,603.9 878.8,603.7 883.2,603.6 887.6,603.5 892.1,603.4 896.5,603.3 900.9,603.2 905.4,603.1 909.8,603.0 914.2,602.9 918.7,602.8 923.1,602.7 927.5,602.7 932.0,602.6 936.4,602.6 940.8,602.5 945.3,602.5 949.7,602.4 954.1,602.4 958.6,602.3 963.0,602.3 967.4,602.2 971.9,602.2 976.3,602.2 980.7,602.1 985.2,602.1 989.6,602.1 994.0,602.0 998.4,602.0 1002.9,602.0 1007.3,601.9 1011.7,601.9 1016.2,601.9 1020.6,601.8 1025.0,601.8 1029.5,601.8 1033.9,601.8 1038.3,601.7 1042.8,601.7 1047.2,601.7 1051.6,601.7 1056.1,601.7 1060.5,601.7 1064.9,601.7 1069.4,601.7 1073.8,601.7 1078.2,601.7 1082.7,601.7 1087.1,601.7 1091.5,601.7 1096.0,601.7 1100.4,601.7 1104.8,601.7 1109.3,601.7 1113.7,601.7 1118.1,601.7 1122.6,601.8 1127.0,601.8 1131.4,601.8 1135.9,601.8 1140.3,601.8 1144.7,601.8 1149.2,601.8 1153.6,601.9 1158.0,601.9 1162.5,601.9 1166.9,601.9 1171.3,601.9 1175.7,602.0 1180.2,602.0 1184.6,602.0 1189.0,602.0 1193.5,602.0 1197.9,602.0 1202.3,602.1 1206.8,602.1 1211.2,602.1 1215.6,602.1 1220.1,602.1 1224.5,602.2 1228.9,602.2 1233.4,602.2 1237.8,602.2 1242.2,602.3 1246.7,602.3 1251.1,602.3 1255.5,602.4 1260.0,602.4 1264.4,602.4 1268.8,602.5 1273.3,602.6 1277.7,602.8 1282.1,603.0 1286.6,603.3 1291.0,603.8 1295.4,604.3 1299.9,605.0 1304.3,605.8 1308.7,606.6 1313.2,607.7 1317.6,608.7 1322.0,609.7 1326.5,610.8 1330.9,612.3 1335.3,614.1 1339.8,616.0 1344.2,618.0 1348.6,620.3 1353.0,622.9 1357.5,625.9 1361.9,629.4 1366.3,634.0 1370.8,639.4 1375.2,645.3 1379.6,651.8 1384.1,659.3 1388.5,667.6 1392.9,676.7 1397.4,686.6 1401.8,697.4 1406.2,709.1 1410.7,722.3 1415.1,738.0 1419.5,755.4 1424.0,775.3 1428.4,794.8 1432.8,818.8 1437.3,842.0 1441.7,865.2 1446.1,887.2 1450.6,908.7 1455.0,927.0 1459.4,942.3 1463.9,956.8 1468.3,967.2 1472.7,973.7 1477.2,971.5 1481.6,963.7 1486.0,957.0 1490.5,949.9 1494.9,942.5 1499.3,934.8 1503.8,926.8 1508.2,918.6 1512.6,910.3 1517.0,901.9 1521.5,893.5 1525.9,885.0 1530.3,876.7 1534.8,868.5 1539.2,860.4 1543.6,852.6 1548.1,845.2 1552.5,838.1 1556.9,831.4 1561.4,825.3 1565.8,819.6 1570.2,814.5 1574.7,810.0 1579.1,806.2 1583.5,803.0 1588.0,800.6 1592.4,798.9 1596.8,798.0 1601.3,797.7 1605.7,798.0 1610.1,798.6 1614.6,799.4 1619.0,800.6 1623.4,802.2 1627.9,804.1 1632.3,806.3 1636.7,808.8 1641.2,811.6 1645.6,814.7 1650.0,818.1 1654.5,821.7 1658.9,825.6 1663.3,829.7 1667.8,834.0 1672.2,838.6 1676.6,843.3 1681.1,848.2 1685.5,853.3 1689.9,858.5 1694.3,863.8 1698.8,869.2 1703.2,874.6 1707.6,880.2 1712.1,885.7 1716.5,891.4 1720.9,896.9 1725.4,902.5 1729.8,908.1 1734.2,913.5 1738.7,918.9 1743.1,924.3 1747.5,929.5 1752.0,934.5 1756.4,939.5 1760.8,944.2 1765.3,948.8 1769.7,953.2 1774.1,957.4 1778.6,961.4 1783.0,965.2 1787.4,968.7 1791.9,971.9 1796.3,975.0 1800.7,977.7 1805.2,980.6 1809.6,983.2 1814.0,984.2 1818.5,983.7 1822.9,982.8 1827.3,981.7 1831.8,980.6 1836.2,979.2 1840.6,977.7 1845.1,976.0 1849.5,974.1 1853.9,972.1 1858.4,969.9 1862.8,967.6 1867.2,965.2 1871.6,962.6 1876.1,959.9 1880.5,957.2 1884.9,954.3 1889.4,951.3 1893.8,948.3 1898.2,945.2 1902.7,942.1 1907.1,938.9 1911.5,935.8 1916.0,932.6 1920.4,929.4 1924.8,926.2 1929.3,923.1 1933.7,920.0 1938.1,917.0 1942.6,914.0 1947.0,911.1 1951.4,908.3 1955.9,905.7 1960.3,903.1 1964.7,900.7 1969.2,898.4 1973.6,896.2 1978.0,894.2 1982.5,892.4 1986.9,890.7 1991.3,889.2 1995.8,887.9 2000.2,886.8 2004.6,885.9 2009.1,885.2 2013.5,884.8 2017.9,884.4 2022.4,884.3 2026.8,884.4 2031.2,884.5 2035.7,884.8 2040.1,885.1 2044.5,885.5 2049.0,886.0 2053.4,886.7 2057.8,887.4 2062.2,888.2 2066.7,889.1 2071.1,890.1 2075.5,891.2 2080.0,892.3 2084.4,893.5 2088.8,894.9 2093.3,896.3 2097.7,897.7 2102.1,899.3 2106.6,900.9 2111.0,902.6 2115.4,904.3 2119.9,906.1 2124.3,907.9 2128.7,909.9 2133.2,911.8 2137.6,913.8"/>
<polyline fill="none" stroke="none" marker-start="url(#cif)" marker-mid="url(#cif)" marker-end="url(#cif)" points="364.6,602.8 369.0,604.0 373.5,605.4 377.9,607.0 382.3,608.6 386.8,610.3 391.2,612.1 395.6,613.7 400.1,615.3 404.5,616.8 408.9,618.3 413.4,617.6 417.8,615.7 422.2,613.5 426.7,611.2 431.1,608.9 435.5,606.6 440.0,604.6 444.4,602.8 448.8,601.5 453.3,600.7 457.7,600.4 462.1,600.4 466.5,600.4 471.0,600.4 475.4,600.4 479.8,600.4 484.3,601.1 488.7,602.8 493.1,605.4 497.6,608.8 502.0,612.6 506.4,616.6 510.9,620.7 515.3,624.6 519.7,628.1 524.2,631.1 528.6,633.2 533.0,634.3 537.5,634.1 541.9,632.1 546.3,628.9 550.8,624.7 555.2,619.9 559.6,615.0 564.1,610.4 568.5,606.4 572.9,603.5 577.4,602.1 581.8,601.6 586.2,601.1 590.7,600.7 595.1,600.5 599.5,600.4 604.0,600.6 608.4,600.9 612.8,601.4 617.3,602.1 621.7,602.9 626.1,604.3 630.5,606.5 635.0,609.4 639.4,612.9 643.8,617.8 648.3,624.4 652.7,631.5 657.1,640.2 661.6,650.5 666.0,659.0 670.4,662.6 674.9,659.1 679.3,651.1 683.7,641.8 688.2,633.9 692.6,625.8 697.0,619.1 701.5,614.0 705.9,609.8 710.3,607.1 714.8,605.4 719.2,604.0 723.6,603.0 728.1,602.5 732.5,602.2 736.9,602.0 741.4,601.8 745.8,601.6 750.2,601.4 754.7,601.3 759.1,601.3 763.5,601.3 768.0,601.3 772.4,601.3 776.8,601.3 781.3,601.3 785.7,601.3 790.1,601.3 794.6,601.3 799.0,601.3 803.4,601.3 807.8,601.3 812.3,601.3 816.7,601.3 821.1,601.3 825.6,601.3 830.0,601.3 834.4,601.3 838.9,601.3 843.3,601.3 847.7,601.3 852.2,601.3 856.6,601.3 861.0,601.3 865.5,601.3 869.9,601.3 874.3,601.3 878.8,601.3 883.2,601.3 887.6,601.3 892.1,601.3 896.5,601.3 900.9,601.3 905.4,601.3 909.8,601.3 914.2,601.3 918.7,601.3 923.1,601.3 927.5,601.3 932.0,601.3 936.4,601.3 940.8,601.3 945.3,601.3 949.7,601.3 954.1,601.3 958.6,601.3 963.0,601.3 967.4,601.3 971.9,601.3 976.3,601.3 980.7,601.3 985.2,601.3 989.6,601.3 994.0,601.3 998.4,601.3 1002.9,601.3 1007.3,601.3 1011.7,601.3 1016.2,601.3 1020.6,601.3 1025.0,601.3 1029.5,601.3 1033.9,601.3 1038.3,601.3 1042.8,601.3 1047.2,601.3 1051.6,601.3 1056.1,601.3 1060.5,601.3 1064.9,601.3 1069.4,601.3 1073.8,601.3 1078.2,601.3 1082.7,601.3 1087.1,601.3 1091.5,601.3 1096.0,601.3 1100.4,601.3 1104.8,601.3 1109.3,601.3 1113.7,601.3 1118.1,601.3 1122.6,601.3 1127.0,601.3 1131.4,601.3 1135.9,601.3 1140.3,601.3 1144.7,601.3 1149.2,601.3 1153.6,601.3 1158.0,601.3 1162.5,601.3 1166.9,601.3 1171.3,601.3 1175.7,601.3 1180.2,601.3 1184.6,601.3 1189.0,601.3 1193.5,601.6 1197.9,601.9 1202.3,602.4 1206.8,602.9 1211.2,604.2 1215.6,606.2 1220.1,609.1 1224.5,612.9 1228.9,617.8 1233.4,625.3 1304.3,627.4 1308.7,621.2 1313.2,616.2 1317.6,612.9 1322.0,610.0 1326.5,607.9 1330.9,606.2 1335.3,604.7 1339.8,603.7 1344.2,603.4 1348.6,603.0 1353.0,602.7 1357.5,602.5 1361.9,602.3 1366.3,602.2 1370.8,602.1 1375.2,602.1 1379.6,602.1 1384.1,602.2 1388.5,602.2 1392.9,602.3 1397.4,602.4 1401.8,602.6 1406.2,602.7 1410.7,602.9 1415.1,603.2 1419.5,603.6 1424.0,604.1 1428.4,604.6 1432.8,605.1 1437.3,605.8 1441.7,606.6 1446.1,607.4 1450.6,608.3 1455.0,609.3 1459.4,610.5 1463.9,611.8 1468.3,613.2 1472.7,614.8 1477.2,616.5 1481.6,618.4 1486.0,620.6 1490.5,623.0 1494.9,625.4 1499.3,627.7 1503.8,630.0 1508.2,632.4 1512.6,634.8 1517.0,637.1 1521.5,639.3 1525.9,641.2 1530.3,643.3 1534.8,645.3 1539.2,646.8 1543.6,647.2 1548.1,646.7 1552.5,645.5 1556.9,644.0 1561.4,642.4 1565.8,640.6 1570.2,638.2 1574.7,635.4 1579.1,632.5 1583.5,629.6 1588.0,627.0 1592.4,624.5 1596.8,622.0 1601.3,619.7 1605.7,617.4 1610.1,615.5 1614.6,613.9 1619.0,612.5 1623.4,611.1 1627.9,610.0 1632.3,608.9 1636.7,608.1 1641.2,607.4 1645.6,606.8 1650.0,606.3 1654.5,605.8 1658.9,605.4 1663.3,605.0 1667.8,604.6 1672.2,604.3 1676.6,604.1 1681.1,603.9 1685.5,603.7 1689.9,603.5 1694.3,603.4 1698.8,603.2 1703.2,603.1 1707.6,603.0 1712.1,602.9 1716.5,602.9 1720.9,602.9 1725.4,603.0 1729.8,603.1 1734.2,603.2 1738.7,603.3 1743.1,603.4 1747.5,603.6 1752.0,603.7 1756.4,603.9 1760.8,604.1 1765.3,604.3 1769.7,604.6 1774.1,604.9 1778.6,605.2 1783.0,605.5 1787.4,605.9 1791.9,606.3 1796.3,606.7 1800.7,607.1 1805.2,607.5 1809.6,608.0 1814.0,608.6 1818.5,609.3 1822.9,610.0 1827.3,610.7 1831.8,611.4 1836.2,612.2 1840.6,612.9 1845.1,613.6 1849.5,614.3 1853.9,615.0 1858.4,615.7 1862.8,616.4 1867.2,617.1 1871.6,617.9 1876.1,618.6 1880.5,619.3 1884.9,620.0 1889.4,620.6 1893.8,621.2 1898.2,621.7 1902.7,622.2 1907.1,622.7 1911.5,623.2 1916.0,623.7 1920.4,624.1 1924.8,624.6 1929.3,624.9 1933.7,625.3 1938.1,625.5 1942.6,625.7 1947.0,625.7 1951.4,625.6 1955.9,625.4 1960.3,625.1 1964.7,624.7 1969.2,624.1 1973.6,623.5 1978.0,622.9 1982.5,622.2 1986.9,621.5 1991.3,620.8 1995.8,620.1 2000.2,619.5 2004.6,618.8 2009.1,618.1 2013.5,617.3 2017.9,616.5 2022.4,615.7 2026.8,614.8 2031.2,614.0 2035.7,613.2 2040.1,612.4 2044.5,611.6 2049.0,610.9 2053.4,610.3 2057.8,609.6 2062.2,609.0 2066.7,608.4 2071.1,607.8 2075.5,607.2 2080.0,606.7 2084.4,606.1 2088.8,605.6 2093.3,605.2 2097.7,604.8 2102.1,604.4 2106.6,604.0 2111.0,603.7 2115.4,603.4 2119.9,603.1 2124.3,602.8 2128.7,602.5 2133.2,602.3 2137.6,602.1"/>
<polyline fill="none" stroke="none" marker-start="url(#ci)" marker-mid="url(#ci)" marker-end="url(#ci)" points="364.6,602.8 369.0,604.0 373.5,605.4 377.9,607.0 382.3,608.6 386.8,610.3 391.2,612.1 395.6,613.7 400.1,615.3 404.5,616.8 408.9,618.3 413.4,617.6 417.8,615.7 422.2,613.5 426.7,611.2 431.1,608.9 435.5,606.6 440.0,604.6 444.4,602.8 448.8,601.5 453.3,600.7 457.7,600.4 462.1,600.4 466.5,600.4 471.0,600.4 475.4,600.4 479.8,600.4 484.3,601.1 488.7,602.8 493.1,605.4 497.6,608.8 502.0,612.6 506.4,616.6 510.9,620.7 515.3,624.6 519.7,628.1 524.2,631.1 528.6,633.2 533.0,634.3 537.5,634.1 541.9,632.1 546.3,628.9 550.8,624.7 555.2,619.9 559.6,615.0 564.1,610.4 568.5,606.4 572.9,603.5 577.4,602.1 581.8,601.6 586.2,601.1 590.7,600.7 595.1,600.5 599.5,600.4 604.0,600.6 608.4,600.9 612.8,601.4 617.3,602.1 621.7,602.9 626.1,604.3 630.5,606.5 635.0,609.4 639.4,612.9 643.8,617.8 648.3,624.4 652.7,631.5 657.1,640.2 661.6,650.5 666.0,659.0 670.4,662.6 674.9,659.1 679.3,651.1 683.7,641.8 688.2,633.9 692.6,625.8 697.0,619.1 701.5,614.0 705.9,609.8 710.3,607.1 714.8,605.4 719.2,604.0 723.6,603.0 728.1,602.5 732.5,602.2 736.9,602.0 741.4,601.8 745.8,601.6 750.2,601.4 754.7,601.3 759.1,601.3 763.5,601.3 768.0,601.3 772.4,601.3 776.8,601.3 781.3,601.3 785.7,601.3 790.1,601.3 794.6,601.3 799.0,601.3 803.4,601.3 807.8,601.3 812.3,601.3 816.7,601.3 821.1,601.3 825.6,601.3 830.0,601.3 834.4,601.3 838.9,601.3 843.3,601.3 847.7,601.3 852.2,601.3 856.6,601.3 861.0,601.3 865.5,601.3 869.9,601.3 874.3,601.3 878.8,601.3 883.2,601.3 887.6,601.3 892.1,601.3 896.5,601.3 900.9,601.3 905.4,601.3 909.8,601.3 914.2,601.3 918.7,601.3 923.1,601.3 927.5,601.3 932.0,601.3 936.4,601.3 940.8,601.3 945.3,601.3 949.7,601.3 954.1,601.3 958.6,601.3 963.0,601.3 967.4,601.3 971.9,601.3 976.3,601.3 980.7,601.3 985.2,601.3 989.6,601.3 994.0,601.3 998.4,601.3 1002.9,601.3 1007.3,601.3 1011.7,601.3 1016.2,601.3 1020.6,601.3 1025.0,601.3 1029.5,601.3 1033.9,601.3 1038.3,601.3 1042.8,601.3 1047.2,601.3 1051.6,601.3 1056.1,601.3 1060.5,601.3 1064.9,601.3 1069.4,601.3 1073.8,601.3 1078.2,601.3 1082.7,601.3 1087.1,601.3 1091.5,601.3 1096.0,601.3 1100.4,601.3 1104.8,601.3 1109.3,601.3 1113.7,601.3 1118.1,601.3 1122.6,601.3 1127.0,601.3 1131.4,601.3 1135.9,601.3 1140.3,601.3 1144.7,601.3 1149.2,601.3 1153.6,601.3 1158.0,601.3 1162.5,601.3 1166.9,601.3 1171.3,601.3 1175.7,601.3 1180.2,601.3 1184.6,601.3 1189.0,601.3 1193.5,601.6 1197.9,601.9 1202.3,602.4 1206.8,602.9 1211.2,604.2 1215.6,606.2 1220.1,609.1 1224.5,612.9 1228.9,617.8 1233.4,625.3 1237.8,635.7 1242.2,653.5 1246.7,690.4 1251.1,749.6 1255.5,827.5 1260.0,904.6 1264.4,955.6 1268.8,962.6 1273.3,917.9 1277.7,844.5 1282.1,769.5 1286.6,709.8 1291.0,670.9 1295.4,650.6 1299.9,636.5 1304.3,627.4 1308.7,621.2 1313.2,616.2 1317.6,612.9 1322.0,610.0 1326.5,607.9 1330.9,606.2 1335.3,604.7 1339.8,603.7 1344.2,603.4 1348.6,603.0 1353.0,602.7 1357.5,602.5 1361.9,602.3 1366.3,602.2 1370.8,602.1 1375.2,602.1 1379.6,602.1 1384.1,602.2 1388.5,602.2 1392.9,602.3 1397.4,602.4 1401.8,602.6 1406.2,602.7 1410.7,602.9 1415.1,603.2 1419.5,603.6 1424.0,604.1 1428.4,604.6 1432.8,605.1 1437.3,605.8 1441.7,606.6 1446.1,607.4 1450.6,608.3 1455.0,609.3 1459.4,610.5 1463.9,611.8 1468.3,613.2 1472.7,614.8 1477.2,616.5 1481.6,618.4 1486.0,620.6 1490.5,623.0 1494.9,625.4 1499.3,627.7 1503.8,630.0 1508.2,632.4 1512.6,634.8 1517.0,637.1 1521.5,639.3 1525.9,641.2 1530.3,643.3 1534.8,645.3 1539.2,646.8 1543.6,647.2 1548.1,646.7 1552.5,645.5 1556.9,644.0 1561.4,642.4 1565.8,640.6 1570.2,638.2 1574.7,635.4 1579.1,632.5 1583.5,629.6 1588.0,627.0 1592.4,624.5 1596.8,622.0 1601.3,619.7 1605.7,617.4 1610.1,615.5 1614.6,613.9 1619.0,612.5 1623.4,611.1 1627.9,610.0 1632.3,608.9 1636.7,608.1 1641.2,607.4 1645.6,606.8 1650.0,606.3 1654.5,605.8 1658.9,605.4 1663.3,605.0 1667.8,604.6 1672.2,604.3 1676.6,604.1 1681.1,603.9 1685.5,603.7 1689.9,603.5 1694.3,603.4 1698.8,603.2 1703.2,603.1 1707.6,603.0 1712.1,602.9 1716.5,602.9 1720.9,602.9 1725.4,603.0 1729.8,603.1 1734.2,603.2 1738.7,603.3 1743.1,603.4 1747.5,603.6 1752.0,603.7 1756.4,603.9 1760.8,604.1 1765.3,604.3 1769.7,604.6 1774.1,604.9 1778.6,605.2 1783.0,605.5 1787.4,605.9 1791.9,606.3 1796.3,606.7 1800.7,607.1 1805.2,607.5 1809.6,608.0 1814.0,608.6 1818.5,609.3 1822.9,610.0 1827.3,610.7 1831.8,611.4 1836.2,612.2 1840.6,612.9 1845.1,613.6 1849.5,614.3 1853.9,615.0 1858.4,615.7 1862.8,616.4 1867.2,617.1 1871.6,617.9 1876.1,618.6 1880.5,619.3 1884.9,620.0 1889.4,620.6 1893.8,621.2 1898.2,621.7 1902.7,622.2 1907.1,622.7 1911.5,623.2 1916.0,623.7 1920.4,624.1 1924.8,624.6 1929.3,624.9 1933.7,625.3 1938.1,625.5 1942.6,625.7 1947.0,625.7 1951.4,625.6 1955.9,625.4 1960.3,625.1 1964.7,624.7 1969.2,624.1 1973.6,623.5 1978.0,622.9 1982.5,622.2 1986.9,621.5 1991.3,620.8 1995.8,620.1 2000.2,619.5 2004.6,618.8 2009.1,618.1 2013.5,617.3 2017.9,616.5 2022.4,615.7 2026.8,614.8 2031.2,614.0 2035.7,613.2 2040.1,612.4 2044.5,611.6 2049.0,610.9 2053.4,610.3 2057.8,609.6 2062.2,609.0 2066.7,608.4 2071.1,607.8 2075.5,607.2 2080.0,606.7 2084.4,606.1 2088.8,605.6 2093.3,605.2 2097.7,604.8 2102.1,604.4 2106.6,604.0 2111.0,603.7 2115.4,603.4 2119.9,603.1 2124.3,602.8 2128.7,602.5 2133.2,602.3 2137.6,602.1"/>
</g>
<g clip-path="url(#cp2)">
<polyline fill="none" stroke="none" marker-start="url(#sqf)" marker-mid="url(#sqf)" marker-end="url(#sqf)" points="364.6,1102.7 369.0,1102.6 373.5,1102.6 377.9,1102.5 382.3,1102.4 386.8,1102.3 391.2,1102.2 395.6,1102.2 400.1,1102.1 404.5,1102.0 408.9,1101.9 413.4,1101.9 417.8,1101.8 422.2,1101.7 426.7,1101.7 431.1,1101.6 435.5,1101.5 440.0,1101.4 444.4,1101.4 448.8,1101.3 453.3,1101.3 457.7,1101.2 462.1,1101.1 466.5,1101.1 471.0,1101.0 475.4,1101.0 479.8,1100.9 484.3,1100.9 488.7,1100.8 493.1,1100.8 497.6,1100.7 502.0,1100.7 506.4,1100.6 510.9,1100.6 515.3,1100.6 519.7,1100.5 524.2,1100.5 528.6,1100.5 533.0,1100.4 537.5,1100.4 541.9,1100.4 546.3,1100.3 550.8,1100.3 555.2,1100.3 559.6,1100.3 564.1,1100.3 568.5,1100.3 572.9,1100.3 577.4,1100.2 581.8,1100.2 586.2,1100.2 590.7,1100.2 595.1,1100.2 599.5,1100.2 604.0,1100.2 608.4,1100.2 612.8,1100.2 617.3,1100.2 621.7,1100.2 626.1,1100.2 630.5,1100.2 635.0,1100.2 639.4,1100.2 643.8,1100.2 648.3,1100.2 652.7,1100.2 657.1,1100.2 661.6,1100.2 666.0,1100.2 670.4,1100.2 674.9,1100.2 679.3,1100.2 683.7,1100.2 688.2,1100.2 692.6,1100.2 697.0,1100.2 701.5,1100.3 705.9,1100.5 710.3,1100.8 714.8,1101.1 719.2,1101.5 723.6,1101.9 728.1,1102.3 732.5,1102.9 736.9,1103.6 741.4,1104.6 745.8,1106.0 750.2,1107.7 754.7,1109.8 759.1,1112.2 763.5,1115.2 768.0,1118.9 772.4,1123.4 776.8,1129.2 781.3,1136.3 785.7,1144.6 790.1,1154.5 856.6,1471.5 861.0,1474.8 865.5,1465.8 869.9,1457.0 874.3,1447.7 878.8,1437.9 883.2,1427.7 887.6,1417.2 892.1,1406.4 896.5,1395.5 900.9,1384.6 905.4,1373.8 909.8,1363.2 914.2,1353.0 918.7,1343.3 923.1,1334.1 927.5,1325.7 932.0,1318.1 936.4,1311.4 940.8,1305.7 945.3,1301.1 949.7,1297.6 954.1,1295.3 958.6,1294.3 963.0,1294.3 967.4,1294.9 971.9,1295.9 976.3,1297.6 980.7,1299.8 985.2,1302.5 989.6,1305.7 994.0,1309.3 998.4,1313.4 1002.9,1317.9 1007.3,1322.9 1011.7,1328.2 1016.2,1333.9 1020.6,1339.9 1025.0,1346.1 1029.5,1352.6 1033.9,1359.3 1038.3,1366.2 1042.8,1373.3 1047.2,1380.4 1051.6,1387.6 1056.1,1394.8 1060.5,1402.0 1064.9,1409.2 1069.4,1416.2 1073.8,1423.2 1078.2,1429.9 1082.7,1436.5 1087.1,1442.9 1091.5,1449.0 1096.0,1454.8 1100.4,1460.4 1104.8,1465.6 1109.3,1470.5 1113.7,1475.0 1118.1,1479.4 1122.6,1483.9 1127.0,1485.5 1131.4,1484.3 1135.9,1482.5 1140.3,1480.7 1144.7,1478.8 1149.2,1476.6 1153.6,1474.2 1158.0,1471.7 1162.5,1468.9 1166.9,1466.1 1171.3,1463.0 1175.7,1459.9 1180.2,1456.6 1184.6,1453.3 1189.0,1449.9 1193.5,1446.4 1197.9,1443.0 1202.3,1439.5 1206.8,1436.0 1211.2,1432.6 1215.6,1429.2 1220.1,1425.9 1224.5,1422.8 1228.9,1419.7 1233.4,1416.8 1237.8,1414.1 1242.2,1411.5 1246.7,1409.2 1251.1,1407.0 1255.5,1405.1 1260.0,1403.4 1264.4,1402.0 1268.8,1400.9 1273.3,1399.9 1277.7,1399.4 1282.1,1399.0 1286.6,1399.0 1291.0,1399.1 1295.4,1399.4 1299.9,1399.8 1304.3,1400.4 1308.7,1401.3 1313.2,1402.2 1317.6,1403.3 1322.0,1404.6 1326.5,1405.9 1330.9,1407.5 1335.3,1409.1 1339.8,1410.9 1344.2,1412.8 1348.6,1414.8 1353.0,1416.9 1357.5,1419.1 1361.9,1421.5 1366.3,1423.8 1370.8,1426.3 1375.2,1428.8 1379.6,1431.3 1384.1,1433.9 1388.5,1436.6 1392.9,1439.2 1397.4,1441.9 1401.8,1444.5 1406.2,1447.2 1410.7,1449.8 1415.1,1452.4 1419.5,1454.9 1424.0,1457.4 1428.4,1459.9 1432.8,1462.2 1437.3,1464.5 1441.7,1466.8 1446.1,1468.9 1450.6,1470.9 1455.0,1472.8 1459.4,1474.6 1463.9,1476.3 1468.3,1477.9 1472.7,1479.3 1477.2,1480.6 1481.6,1481.8 1486.0,1482.8 1490.5,1483.8 1494.9,1484.6 1499.3,1484.7 1503.8,1484.4 1508.2,1483.9 1512.6,1483.3 1517.0,1482.7 1521.5,1482.0 1525.9,1481.2 1530.3,1480.4 1534.8,1479.4 1539.2,1478.4 1543.6,1477.4 1548.1,1476.2 1552.5,1475.0 1556.9,1473.7 1561.4,1472.4 1565.8,1471.0 1570.2,1469.5 1574.7,1468.0 1579.1,1466.5 1583.5,1464.9 1588.0,1463.3 1592.4,1461.6 1596.8,1459.9 1601.3,1458.2 1605.7,1456.5 1610.1,1454.8 1614.6,1453.1 1619.0,1451.3 1623.4,1449.6 1627.9,1447.9 1632.3,1446.2 1636.7,1444.5 1641.2,1442.9 1645.6,1441.2 1650.0,1439.6 1654.5,1438.1 1658.9,1436.5 1663.3,1435.1 1667.8,1433.7 1672.2,1432.3 1676.6,1431.0 1681.1,1429.8 1685.5,1428.6 1689.9,1427.5 1694.3,1426.5 1698.8,1425.5 1703.2,1424.7 1707.6,1423.9 1712.1,1423.2 1716.5,1422.6 1720.9,1422.1 1725.4,1421.6 1729.8,1421.4 1734.2,1421.1 1738.7,1421.0 1743.1,1420.9 1747.5,1421.0 1752.0,1421.1 1756.4,1421.2 1760.8,1421.4 1765.3,1421.6 1769.7,1421.9 1774.1,1422.3 1778.6,1422.7 1783.0,1423.2 1787.4,1423.7 1791.9,1424.3 1796.3,1424.9 1800.7,1425.6 1805.2,1426.3 1809.6,1427.1 1814.0,1427.9 1818.5,1428.8 1822.9,1429.7 1827.3,1430.6 1831.8,1431.6 1836.2,1432.6 1840.6,1433.7 1845.1,1434.7 1849.5,1435.9 1853.9,1437.0 1858.4,1438.2 1862.8,1439.4 1867.2,1440.6 1871.6,1441.8 1876.1,1443.1 1880.5,1444.3 1884.9,1445.6 1889.4,1446.9 1893.8,1448.2 1898.2,1449.5 1902.7,1450.8 1907.1,1452.1 1911.5,1453.4 1916.0,1454.7 1920.4,1456.0 1924.8,1457.3 1929.3,1458.5 1933.7,1459.8 1938.1,1461.0 1942.6,1462.2 1947.0,1463.4 1951.4,1464.6 1955.9,1465.8 1960.3,1466.9 1964.7,1468.0 1969.2,1469.0 1973.6,1470.1 1978.0,1471.0 1982.5,1472.0 1986.9,1472.9 1991.3,1473.8 1995.8,1474.6 2000.2,1475.4 2004.6,1476.1 2009.1,1476.8 2013.5,1477.5 2017.9,1478.0 2022.4,1478.6 2026.8,1479.1 2031.2,1479.5 2035.7,1479.9 2040.1,1480.3 2044.5,1480.6 2049.0,1480.8 2053.4,1481.0 2057.8,1481.0 2062.2,1480.8 2066.7,1480.7 2071.1,1480.5 2075.5,1480.3 2080.0,1480.0 2084.4,1479.7 2088.8,1479.4 2093.3,1479.1 2097.7,1478.7 2102.1,1478.3 2106.6,1477.9 2111.0,1477.5 2115.4,1477.0 2119.9,1476.5 2124.3,1476.0 2128.7,1475.4 2133.2,1474.8 2137.6,1474.2"/>
<polyline fill="none" stroke="none" marker-start="url(#sq)" marker-mid="url(#sq)" marker-end="url(#sq)" points="364.6,1102.7 369.0,1102.6 373.5,1102.6 377.9,1102.5 382.3,1102.4 386.8,1102.3 391.2,1102.2 395.6,1102.2 400.1,1102.1 404.5,1102.0 408.9,1101.9 413.4,1101.9 417.8,1101.8 422.2,1101.7 426.7,1101.7 431.1,1101.6 435.5,1101.5 440.0,1101.4 444.4,1101.4 448.8,1101.3 453.3,1101.3 457.7,1101.2 462.1,1101.1 466.5,1101.1 471.0,1101.0 475.4,1101.0 479.8,1100.9 484.3,1100.9 488.7,1100.8 493.1,1100.8 497.6,1100.7 502.0,1100.7 506.4,1100.6 510.9,1100.6 515.3,1100.6 519.7,1100.5 524.2,1100.5 528.6,1100.5 533.0,1100.4 537.5,1100.4 541.9,1100.4 546.3,1100.3 550.8,1100.3 555.2,1100.3 559.6,1100.3 564.1,1100.3 568.5,1100.3 572.9,1100.3 577.4,1100.2 581.8,1100.2 586.2,1100.2 590.7,1100.2 595.1,1100.2 599.5,1100.2 604.0,1100.2 608.4,1100.2 612.8,1100.2 617.3,1100.2 621.7,1100.2 626.1,1100.2 630.5,1100.2 635.0,1100.2 639.4,1100.2 643.8,1100.2 648.3,1100.2 652.7,1100.2 657.1,1100.2 661.6,1100.2 666.0,1100.2 670.4,1100.2 674.9,1100.2 679.3,1100.2 683.7,1100.2 688.2,1100.2 692.6,1100.2 697.0,1100.2 701.5,1100.3 705.9,1100.5 710.3,1100.8 714.8,1101.1 719.2,1101.5 723.6,1101.9 728.1,1102.3 732.5,1102.9 736.9,1103.6 741.4,1104.6 745.8,1106.0 750.2,1107.7 754.7,1109.8 759.1,1112.2 763.5,1115.2 768.0,1118.9 772.4,1123.4 776.8,1129.2 781.3,1136.3 785.7,1144.6 790.1,1154.5 794.6,1166.1 799.0,1179.8 803.4,1195.5 807.8,1213.3 812.3,1233.2 816.7,1255.2 821.1,1283.4 825.6,1309.9 830.0,1340.5 834.4,1370.4 838.9,1397.7 843.3,1424.6 847.7,1443.3 852.2,1461.1 856.6,1471.5 861.0,1474.8 865.5,1465.8 869.9,1457.0 874.3,1447.7 878.8,1437.9 883.2,1427.7 887.6,1417.2 892.1,1406.4 896.5,1395.5 900.9,1384.6 905.4,1373.8 909.8,1363.2 914.2,1353.0 918.7,1343.3 923.1,1334.1 927.5,1325.7 932.0,1318.1 936.4,1311.4 940.8,1305.7 945.3,1301.1 949.7,1297.6 954.1,1295.3 958.6,1294.3 963.0,1294.3 967.4,1294.9 971.9,1295.9 976.3,1297.6 980.7,1299.8 985.2,1302.5 989.6,1305.7 994.0,1309.3 998.4,1313.4 1002.9,1317.9 1007.3,1322.9 1011.7,1328.2 1016.2,1333.9 1020.6,1339.9 1025.0,1346.1 1029.5,1352.6 1033.9,1359.3 1038.3,1366.2 1042.8,1373.3 1047.2,1380.4 1051.6,1387.6 1056.1,1394.8 1060.5,1402.0 1064.9,1409.2 1069.4,1416.2 1073.8,1423.2 1078.2,1429.9 1082.7,1436.5 1087.1,1442.9 1091.5,1449.0 1096.0,1454.8 1100.4,1460.4 1104.8,1465.6 1109.3,1470.5 1113.7,1475.0 1118.1,1479.4 1122.6,1483.9 1127.0,1485.5 1131.4,1484.3 1135.9,1482.5 1140.3,1480.7 1144.7,1478.8 1149.2,1476.6 1153.6,1474.2 1158.0,1471.7 1162.5,1468.9 1166.9,1466.1 1171.3,1463.0 1175.7,1459.9 1180.2,1456.6 1184.6,1453.3 1189.0,1449.9 1193.5,1446.4 1197.9,1443.0 1202.3,1439.5 1206.8,1436.0 1211.2,1432.6 1215.6,1429.2 1220.1,1425.9 1224.5,1422.8 1228.9,1419.7 1233.4,1416.8 1237.8,1414.1 1242.2,1411.5 1246.7,1409.2 1251.1,1407.0 1255.5,1405.1 1260.0,1403.4 1264.4,1402.0 1268.8,1400.9 1273.3,1399.9 1277.7,1399.4 1282.1,1399.0 1286.6,1399.0 1291.0,1399.1 1295.4,1399.4 1299.9,1399.8 1304.3,1400.4 1308.7,1401.3 1313.2,1402.2 1317.6,1403.3 1322.0,1404.6 1326.5,1405.9 1330.9,1407.5 1335.3,1409.1 1339.8,1410.9 1344.2,1412.8 1348.6,1414.8 1353.0,1416.9 1357.5,1419.1 1361.9,1421.5 1366.3,1423.8 1370.8,1426.3 1375.2,1428.8 1379.6,1431.3 1384.1,1433.9 1388.5,1436.6 1392.9,1439.2 1397.4,1441.9 1401.8,1444.5 1406.2,1447.2 1410.7,1449.8 1415.1,1452.4 1419.5,1454.9 1424.0,1457.4 1428.4,1459.9 1432.8,1462.2 1437.3,1464.5 1441.7,1466.8 1446.1,1468.9 1450.6,1470.9 1455.0,1472.8 1459.4,1474.6 1463.9,1476.3 1468.3,1477.9 1472.7,1479.3 1477.2,1480.6 1481.6,1481.8 1486.0,1482.8 1490.5,1483.8 1494.9,1484.6 1499.3,1484.7 1503.8,1484.4 1508.2,1483.9 1512.6,1483.3 1517.0,1482.7 1521.5,1482.0 1525.9,1481.2 1530.3,1480.4 1534.8,1479.4 1539.2,1478.4 1543.6,1477.4 1548.1,1476.2 1552.5,1475.0 1556.9,1473.7 1561.4,1472.4 1565.8,1471.0 1570.2,1469.5 1574.7,1468.0 1579.1,1466.5 1583.5,1464.9 1588.0,1463.3 1592.4,1461.6 1596.8,1459.9 1601.3,1458.2 1605.7,1456.5 1610.1,1454.8 1614.6,1453.1 1619.0,1451.3 1623.4,1449.6 1627.9,1447.9 1632.3,1446.2 1636.7,1444.5 1641.2,1442.9 1645.6,1441.2 1650.0,1439.6 1654.5,1438.1 1658.9,1436.5 1663.3,1435.1 1667.8,1433.7 1672.2,1432.3 1676.6,1431.0 1681.1,1429.8 1685.5,1428.6 1689.9,1427.5 1694.3,1426.5 1698.8,1425.5 1703.2,1424.7 1707.6,1423.9 1712.1,1423.2 1716.5,1422.6 1720.9,1422.1 1725.4,1421.6 1729.8,1421.4 1734.2,1421.1 1738.7,1421.0 1743.1,1420.9 1747.5,1421.0 1752.0,1421.1 1756.4,1421.2 1760.8,1421.4 1765.3,1421.6 1769.7,1421.9 1774.1,1422.3 1778.6,1422.7 1783.0,1423.2 1787.4,1423.7 1791.9,1424.3 1796.3,1424.9 1800.7,1425.6 1805.2,1426.3 1809.6,1427.1 1814.0,1427.9 1818.5,1428.8 1822.9,1429.7 1827.3,1430.6 1831.8,1431.6 1836.2,1432.6 1840.6,1433.7 1845.1,1434.7 1849.5,1435.9 1853.9,1437.0 1858.4,1438.2 1862.8,1439.4 1867.2,1440.6 1871.6,1441.8 1876.1,1443.1 1880.5,1444.3 1884.9,1445.6 1889.4,1446.9 1893.8,1448.2 1898.2,1449.5 1902.7,1450.8 1907.1,1452.1 1911.5,1453.4 1916.0,1454.7 1920.4,1456.0 1924.8,1457.3 1929.3,1458.5 1933.7,1459.8 1938.1,1461.0 1942.6,1462.2 1947.0,1463.4 1951.4,1464.6 1955.9,1465.8 1960.3,1466.9 1964.7,1468.0 1969.2,1469.0 1973.6,1470.1 1978.0,1471.0 1982.5,1472.0 1986.9,1472.9 1991.3,1473.8 1995.8,1474.6 2000.2,1475.4 2004.6,1476.1 2009.1,1476.8 2013.5,1477.5 2017.9,1478.0 2022.4,1478.6 2026.8,1479.1 2031.2,1479.5 2035.7,1479.9 2040.1,1480.3 2044.5,1480.6 2049.0,1480.8 2053.4,1481.0 2057.8,1481.0 2062.2,1480.8 2066.7,1480.7 2071.1,1480.5 2075.5,1480.3 2080.0,1480.0 2084.4,1479.7 2088.8,1479.4 2093.3,1479.1 2097.7,1478.7 2102.1,1478.3 2106.6,1477.9 2111.0,1477.5 2115.4,1477.0 2119.9,1476.5 2124.3,1476.0 2128.7,1475.4 2133.2,1474.8 2137.6,1474.2"/>
<polyline fill="none" stroke="none" marker-start="url(#cif)" marker-mid="url(#cif)" marker-end="url(#cif)" points="364.6,1106.0 369.0,1106.0 373.5,1105.9 377.9,1105.8 382.3,1105.7 386.8,1105.6 391.2,1105.5 395.6,1105.5 400.1,1105.4 404.5,1105.3 408.9,1105.2 413.4,1105.1 417.8,1105.0 422.2,1105.0 426.7,1104.9 431.1,1104.8 435.5,1104.7 440.0,1104.6 444.4,1104.6 448.8,1104.5 453.3,1104.4 457.7,1104.3 462.1,1104.2 466.5,1104.1 471.0,1104.0 475.4,1104.0 479.8,1103.9 484.3,1103.8 488.7,1103.7 493.1,1103.6 497.6,1103.5 502.0,1103.5 506.4,1103.4 510.9,1103.3 515.3,1103.2 519.7,1103.1 524.2,1103.0 528.6,1103.0 533.0,1102.9 537.5,1102.8 541.9,1102.7 546.3,1102.7 550.8,1102.6 555.2,1102.5 559.6,1102.4 564.1,1102.3 568.5,1102.2 572.9,1102.1 577.4,1102.1 581.8,1102.0 586.2,1101.9 590.7,1101.8 595.1,1101.7 599.5,1101.6 604.0,1101.6 608.4,1101.5 612.8,1101.4 617.3,1101.3 621.7,1101.3 626.1,1101.2 630.5,1101.2 635.0,1101.1 639.4,1101.1 643.8,1101.1 648.3,1101.1 652.7,1101.1 657.1,1101.1 661.6,1101.2 666.0,1101.4 670.4,1101.7 674.9,1101.9 679.3,1102.2 683.7,1102.7 688.2,1103.3 692.6,1104.0 697.0,1105.0 701.5,1106.5 705.9,1108.5 710.3,1111.8 714.8,1117.2 719.2,1125.5 803.4,1155.8 807.8,1147.5 812.3,1141.7 816.7,1137.5 821.1,1134.5 825.6,1132.6 830.0,1131.5 834.4,1130.8 838.9,1130.5 843.3,1130.7 847.7,1131.3 852.2,1132.1 856.6,1133.1 861.0,1134.2 865.5,1135.6 869.9,1137.6 874.3,1140.0 878.8,1142.7 883.2,1145.5 887.6,1148.3 892.1,1151.4 896.5,1154.8 900.9,1158.4 905.4,1161.8 909.8,1164.9 914.2,1167.8 918.7,1170.9 923.1,1173.7 927.5,1176.0 932.0,1177.2 936.4,1177.1 940.8,1175.7 945.3,1173.5 949.7,1170.8 954.1,1167.8 958.6,1164.9 963.0,1161.8 967.4,1158.2 971.9,1154.4 976.3,1150.5 980.7,1146.7 985.2,1143.3 989.6,1140.2 994.0,1137.2 998.4,1134.3 1002.9,1131.5 1007.3,1129.0 1011.7,1126.8 1016.2,1124.7 1020.6,1122.8 1025.0,1121.1 1029.5,1119.5 1033.9,1118.0 1038.3,1116.8 1042.8,1115.7 1047.2,1114.7 1051.6,1113.8 1056.1,1112.9 1060.5,1112.3 1064.9,1111.8 1069.4,1111.5 1073.8,1111.2 1078.2,1110.9 1082.7,1110.7 1087.1,1110.5 1091.5,1110.3 1096.0,1110.2 1100.4,1110.2 1104.8,1110.2 1109.3,1110.4 1113.7,1110.7 1118.1,1111.0 1122.6,1111.5 1127.0,1111.9 1131.4,1112.4 1135.9,1113.0 1140.3,1113.5 1144.7,1114.1 1149.2,1114.9 1153.6,1115.7 1158.0,1116.7 1162.5,1117.7 1166.9,1118.8 1171.3,1119.9 1175.7,1121.0 1180.2,1122.1 1184.6,1123.4 1189.0,1124.7 1193.5,1126.0 1197.9,1127.3 1202.3,1128.4 1206.8,1129.2 1211.2,1130.0 1215.6,1130.8 1220.1,1131.5 1224.5,1132.2 1228.9,1132.7 1233.4,1133.1 1237.8,1133.3 1242.2,1133.3 1246.7,1132.9 1251.1,1132.2 1255.5,1131.1 1260.0,1130.0 1264.4,1128.7 1268.8,1127.6 1273.3,1126.4 1277.7,1125.0 1282.1,1123.6 1286.6,1122.1 1291.0,1120.7 1295.4,1119.3 1299.9,1118.0 1304.3,1116.6 1308.7,1115.3 1313.2,1114.0 1317.6,1112.8 1322.0,1111.8 1326.5,1111.0 1330.9,1110.1 1335.3,1109.4 1339.8,1108.7 1344.2,1108.1 1348.6,1107.7 1353.0,1107.4 1357.5,1107.1 1361.9,1106.8 1366.3,1106.5 1370.8,1106.3 1375.2,1106.2 1379.6,1106.1 1384.1,1106.0 1388.5,1106.0 1392.9,1106.1 1397.4,1106.1 1401.8,1106.1 1406.2,1106.1 1410.7,1106.1 1415.1,1106.2 1419.5,1106.2 1424.0,1106.3 1428.4,1106.3 1432.8,1106.4 1437.3,1106.4 1441.7,1106.5 1446.1,1106.5 1450.6,1106.6 1455.0,1106.6 1459.4,1106.7 1463.9,1106.7 1468.3,1106.8 1472.7,1106.9 1477.2,1106.9 1481.6,1107.0 1486.0,1107.1 1490.5,1107.2 1494.9,1107.3 1499.3,1107.4 1503.8,1107.5 1508.2,1107.6 1512.6,1107.7 1517.0,1107.8 1521.5,1107.9 1525.9,1108.1 1530.3,1108.2 1534.8,1108.4 1539.2,1108.5 1543.6,1108.7 1548.1,1108.9 1552.5,1109.1 1556.9,1109.3 1561.4,1109.6 1565.8,1109.8 1570.2,1110.1 1574.7,1110.4 1579.1,1110.7 1583.5,1111.0 1588.0,1111.4 1592.4,1111.7 1596.8,1112.1 1601.3,1112.6 1605.7,1113.0 1610.1,1113.5 1614.6,1113.9 1619.0,1114.4 1623.4,1114.8 1627.9,1115.2 1632.3,1115.5 1636.7,1115.9 1641.2,1116.3 1645.6,1116.7 1650.0,1117.1 1654.5,1117.4 1658.9,1117.7 1663.3,1117.9 1667.8,1118.0 1672.2,1118.0 1676.6,1118.0 1681.1,1117.8 1685.5,1117.5 1689.9,1117.2 1694.3,1116.8 1698.8,1116.4 1703.2,1116.0 1707.6,1115.6 1712.1,1115.2 1716.5,1114.7 1720.9,1114.2 1725.4,1113.7 1729.8,1113.2 1734.2,1112.6 1738.7,1112.0 1743.1,1111.5 1747.5,1111.0 1752.0,1110.5 1756.4,1110.1 1760.8,1109.6 1765.3,1109.1 1769.7,1108.7 1774.1,1108.3 1778.6,1107.9 1783.0,1107.5 1787.4,1107.2 1791.9,1106.9 1796.3,1106.6 1800.7,1106.4 1805.2,1106.1 1809.6,1105.9 1814.0,1105.7 1818.5,1105.5 1822.9,1105.3 1827.3,1105.1 1831.8,1104.9 1836.2,1104.8 1840.6,1104.6 1845.1,1104.5 1849.5,1104.4 1853.9,1104.3 1858.4,1104.2 1862.8,1104.0 1867.2,1103.9 1871.6,1103.8 1876.1,1103.7 1880.5,1103.6 1884.9,1103.5 1889.4,1103.5 1893.8,1103.4 1898.2,1103.3 1902.7,1103.3 1907.1,1103.2 1911.5,1103.2 1916.0,1103.1 1920.4,1103.1 1924.8,1103.1 1929.3,1103.1 1933.7,1103.1 1938.1,1103.1 1942.6,1103.0 1947.0,1103.0 1951.4,1103.0 1955.9,1103.0 1960.3,1103.0 1964.7,1103.0 1969.2,1103.0 1973.6,1102.9 1978.0,1102.9 1982.5,1102.9 1986.9,1102.9 1991.3,1102.9 1995.8,1102.9 2000.2,1102.9 2004.6,1102.9 2009.1,1102.9 2013.5,1102.9 2017.9,1102.8 2022.4,1102.8 2026.8,1102.8 2031.2,1102.8 2035.7,1102.8 2040.1,1102.8 2044.5,1102.8 2049.0,1102.8 2053.4,1102.8 2057.8,1102.8 2062.2,1102.8 2066.7,1102.8 2071.1,1102.8 2075.5,1102.8 2080.0,1102.8 2084.4,1102.8 2088.8,1102.7 2093.3,1102.7 2097.7,1102.7 2102.1,1102.7 2106.6,1102.7 2111.0,1102.7 2115.4,1102.7 2119.9,1102.7 2124.3,1102.7 2128.7,1102.7 2133.2,1102.7 2137.6,1102.7"/>
<polyline fill="none" stroke="none" marker-start="url(#ci)" marker-mid="url(#ci)" marker-end="url(#ci)" points="364.6,1106.0 369.0,1106.0 373.5,1105.9 377.9,1105.8 382.3,1105.7 386.8,1105.6 391.2,1105.5 395.6,1105.5 400.1,1105.4 404.5,1105.3 408.9,1105.2 413.4,1105.1 417.8,1105.0 422.2,1105.0 426.7,1104.9 431.1,1104.8 435.5,1104.7 440.0,1104.6 444.4,1104.6 448.8,1104.5 453.3,1104.4 457.7,1104.3 462.1,1104.2 466.5,1104.1 471.0,1104.0 475.4,1104.0 479.8,1103.9 484.3,1103.8 488.7,1103.7 493.1,1103.6 497.6,1103.5 502.0,1103.5 506.4,1103.4 510.9,1103.3 515.3,1103.2 519.7,1103.1 524.2,1103.0 528.6,1103.0 533.0,1102.9 537.5,1102.8 541.9,1102.7 546.3,1102.7 550.8,1102.6 555.2,1102.5 559.6,1102.4 564.1,1102.3 568.5,1102.2 572.9,1102.1 577.4,1102.1 581.8,1102.0 586.2,1101.9 590.7,1101.8 595.1,1101.7 599.5,1101.6 604.0,1101.6 608.4,1101.5 612.8,1101.4 617.3,1101.3 621.7,1101.3 626.1,1101.2 630.5,1101.2 635.0,1101.1 639.4,1101.1 643.8,1101.1 648.3,1101.1 652.7,1101.1 657.1,1101.1 661.6,1101.2 666.0,1101.4 670.4,1101.7 674.9,1101.9 679.3,1102.2 683.7,1102.7 688.2,1103.3 692.6,1104.0 697.0,1105.0 701.5,1106.5 705.9,1108.5 710.3,1111.8 714.8,1117.2 719.2,1125.5 723.6,1137.9 728.1,1158.2 732.5,1188.9 736.9,1229.9 741.4,1283.4 745.8,1343.0 750.2,1399.8 754.7,1443.3 759.1,1466.5 763.5,1443.7 768.0,1400.2 772.4,1351.7 776.8,1303.3 781.3,1260.2 785.7,1227.4 790.1,1202.6 794.6,1181.9 799.0,1166.9 803.4,1155.8 807.8,1147.5 812.3,1141.7 816.7,1137.5 821.1,1134.5 825.6,1132.6 830.0,1131.5 834.4,1130.8 838.9,1130.5 843.3,1130.7 847.7,1131.3 852.2,1132.1 856.6,1133.1 861.0,1134.2 865.5,1135.6 869.9,1137.6 874.3,1140.0 878.8,1142.7 883.2,1145.5 887.6,1148.3 892.1,1151.4 896.5,1154.8 900.9,1158.4 905.4,1161.8 909.8,1164.9 914.2,1167.8 918.7,1170.9 923.1,1173.7 927.5,1176.0 932.0,1177.2 936.4,1177.1 940.8,1175.7 945.3,1173.5 949.7,1170.8 954.1,1167.8 958.6,1164.9 963.0,1161.8 967.4,1158.2 971.9,1154.4 976.3,1150.5 980.7,1146.7 985.2,1143.3 989.6,1140.2 994.0,1137.2 998.4,1134.3 1002.9,1131.5 1007.3,1129.0 1011.7,1126.8 1016.2,1124.7 1020.6,1122.8 1025.0,1121.1 1029.5,1119.5 1033.9,1118.0 1038.3,1116.8 1042.8,1115.7 1047.2,1114.7 1051.6,1113.8 1056.1,1112.9 1060.5,1112.3 1064.9,1111.8 1069.4,1111.5 1073.8,1111.2 1078.2,1110.9 1082.7,1110.7 1087.1,1110.5 1091.5,1110.3 1096.0,1110.2 1100.4,1110.2 1104.8,1110.2 1109.3,1110.4 1113.7,1110.7 1118.1,1111.0 1122.6,1111.5 1127.0,1111.9 1131.4,1112.4 1135.9,1113.0 1140.3,1113.5 1144.7,1114.1 1149.2,1114.9 1153.6,1115.7 1158.0,1116.7 1162.5,1117.7 1166.9,1118.8 1171.3,1119.9 1175.7,1121.0 1180.2,1122.1 1184.6,1123.4 1189.0,1124.7 1193.5,1126.0 1197.9,1127.3 1202.3,1128.4 1206.8,1129.2 1211.2,1130.0 1215.6,1130.8 1220.1,1131.5 1224.5,1132.2 1228.9,1132.7 1233.4,1133.1 1237.8,1133.3 1242.2,1133.3 1246.7,1132.9 1251.1,1132.2 1255.5,1131.1 1260.0,1130.0 1264.4,1128.7 1268.8,1127.6 1273.3,1126.4 1277.7,1125.0 1282.1,1123.6 1286.6,1122.1 1291.0,1120.7 1295.4,1119.3 1299.9,1118.0 1304.3,1116.6 1308.7,1115.3 1313.2,1114.0 1317.6,1112.8 1322.0,1111.8 1326.5,1111.0 1330.9,1110.1 1335.3,1109.4 1339.8,1108.7 1344.2,1108.1 1348.6,1107.7 1353.0,1107.4 1357.5,1107.1 1361.9,1106.8 1366.3,1106.5 1370.8,1106.3 1375.2,1106.2 1379.6,1106.1 1384.1,1106.0 1388.5,1106.0 1392.9,1106.1 1397.4,1106.1 1401.8,1106.1 1406.2,1106.1 1410.7,1106.1 1415.1,1106.2 1419.5,1106.2 1424.0,1106.3 1428.4,1106.3 1432.8,1106.4 1437.3,1106.4 1441.7,1106.5 1446.1,1106.5 1450.6,1106.6 1455.0,1106.6 1459.4,1106.7 1463.9,1106.7 1468.3,1106.8 1472.7,1106.9 1477.2,1106.9 1481.6,1107.0 1486.0,1107.1 1490.5,1107.2 1494.9,1107.3 1499.3,1107.4 1503.8,1107.5 1508.2,1107.6 1512.6,1107.7 1517.0,1107.8 1521.5,1107.9 1525.9,1108.1 1530.3,1108.2 1534.8,1108.4 1539.2,1108.5 1543.6,1108.7 1548.1,1108.9 1552.5,1109.1 1556.9,1109.3 1561.4,1109.6 1565.8,1109.8 1570.2,1110.1 1574.7,1110.4 1579.1,1110.7 1583.5,1111.0 1588.0,1111.4 1592.4,1111.7 1596.8,1112.1 1601.3,1112.6 1605.7,1113.0 1610.1,1113.5 1614.6,1113.9 1619.0,1114.4 1623.4,1114.8 1627.9,1115.2 1632.3,1115.5 1636.7,1115.9 1641.2,1116.3 1645.6,1116.7 1650.0,1117.1 1654.5,1117.4 1658.9,1117.7 1663.3,1117.9 1667.8,1118.0 1672.2,1118.0 1676.6,1118.0 1681.1,1117.8 1685.5,1117.5 1689.9,1117.2 1694.3,1116.8 1698.8,1116.4 1703.2,1116.0 1707.6,1115.6 1712.1,1115.2 1716.5,1114.7 1720.9,1114.2 1725.4,1113.7 1729.8,1113.2 1734.2,1112.6 1738.7,1112.0 1743.1,1111.5 1747.5,1111.0 1752.0,1110.5 1756.4,1110.1 1760.8,1109.6 1765.3,1109.1 1769.7,1108.7 1774.1,1108.3 1778.6,1107.9 1783.0,1107.5 1787.4,1107.2 1791.9,1106.9 1796.3,1106.6 1800.7,1106.4 1805.2,1106.1 1809.6,1105.9 1814.0,1105.7 1818.5,1105.5 1822.9,1105.3 1827.3,1105.1 1831.8,1104.9 1836.2,1104.8 1840.6,1104.6 1845.1,1104.5 1849.5,1104.4 1853.9,1104.3 1858.4,1104.2 1862.8,1104.0 1867.2,1103.9 1871.6,1103.8 1876.1,1103.7 1880.5,1103.6 1884.9,1103.5 1889.4,1103.5 1893.8,1103.4 1898.2,1103.3 1902.7,1103.3 1907.1,1103.2 1911.5,1103.2 1916.0,1103.1 1920.4,1103.1 1924.8,1103.1 1929.3,1103.1 1933.7,1103.1 1938.1,1103.1 1942.6,1103.0 1947.0,1103.0 1951.4,1103.0 1955.9,1103.0 1960.3,1103.0 1964.7,1103.0 1969.2,1103.0 1973.6,1102.9 1978.0,1102.9 1982.5,1102.9 1986.9,1102.9 1991.3,1102.9 1995.8,1102.9 2000.2,1102.9 2004.6,1102.9 2009.1,1102.9 2013.5,1102.9 2017.9,1102.8 2022.4,1102.8 2026.8,1102.8 2031.2,1102.8 2035.7,1102.8 2040.1,1102.8 2044.5,1102.8 2049.0,1102.8 2053.4,1102.8 2057.8,1102.8 2062.2,1102.8 2066.7,1102.8 2071.1,1102.8 2075.5,1102.8 2080.0,1102.8 2084.4,1102.8 2088.8,1102.7 2093.3,1102.7 2097.7,1102.7 2102.1,1102.7 2106.6,1102.7 2111.0,1102.7 2115.4,1102.7 2119.9,1102.7 2124.3,1102.7 2128.7,1102.7 2133.2,1102.7 2137.6,1102.7"/>
</g>
<text x="320.5" y="117.4" font-size="88" text-anchor="end">100</text>
<text x="320.5" y="324.4" font-size="88" text-anchor="end">50</text>
<text x="320.5" y="531.4" font-size="88" text-anchor="end">0</text>
<text x="320.5" y="613.4" font-size="88" text-anchor="end">100</text>
<text x="320.5" y="820.6" font-size="88" text-anchor="end">50</text>
<text x="320.5" y="1026.2" font-size="88" text-anchor="end">0</text>
<text x="320.5" y="1124.2" font-size="88" text-anchor="end">100</text>
<text x="320.5" y="1331.0" font-size="88" text-anchor="end">50</text>
<text x="320.5" y="1538.8" font-size="88" text-anchor="end">0</text>
<text x="364.3" y="1614.6" font-size="88" text-anchor="middle">400</text>
<text x="807.5" y="1614.6" font-size="88" text-anchor="middle">500</text>
<text x="1250.8" y="1614.6" font-size="88" text-anchor="middle">600</text>
<text x="1694.0" y="1614.6" font-size="88" text-anchor="middle">700</text>
<text x="2137.3" y="1614.6" font-size="88" text-anchor="middle">800</text>
<text x="376.6" y="204" font-size="88">(a)</text>
<text x="381.5" y="719.3" font-size="88">(b)</text>
<text x="381.5" y="1211.3" font-size="88">(c)</text>
<text x="864.6" y="1741.0" font-size="110.7">Wavelength (nm)</text>
<text transform="translate(126.4 1155.4) rotate(-90)" font-size="111.5">Reflectance (%)</text>
<rect x="1731" y="705.8" width="20" height="20" fill="none" stroke="#000" stroke-width="8"/>
<circle cx="1741.2" cy="815.3" r="11.2" fill="none" stroke="#f00" stroke-width="9.4"/>
<text x="1792" y="730.3" font-size="81">(BA)</text>
<text x="1959" y="696.5" font-size="53">N</text>
<text x="1997.6" y="730.3" font-size="81">S</text>
<text x="1796.5" y="841.5" font-size="81">(BA)</text>
<text x="1960.4" y="808" font-size="53">N</text>
<text x="2002" y="841.5" font-size="81">MS</text>
</svg>
</body>
</html>
